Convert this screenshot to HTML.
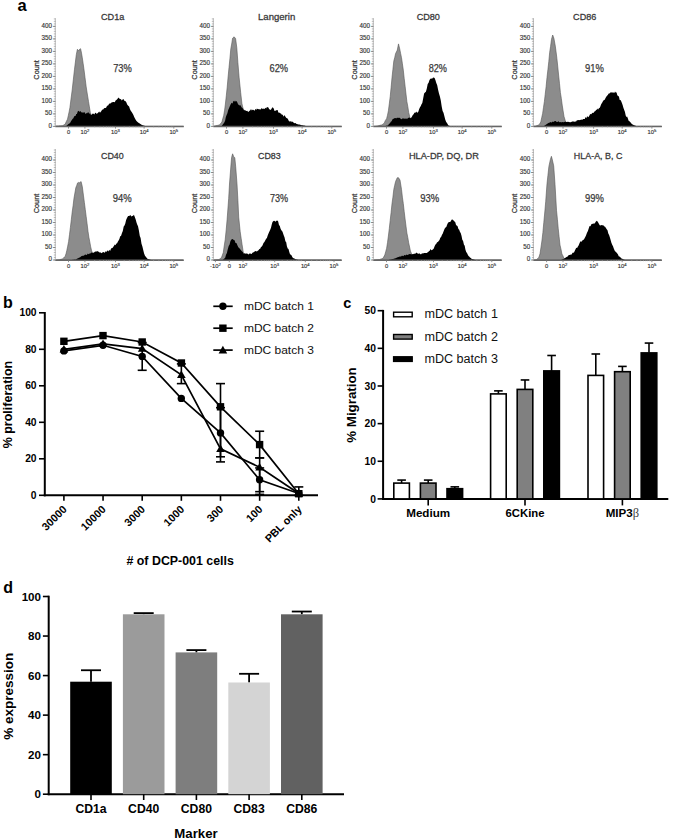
<!DOCTYPE html>
<html><head><meta charset="utf-8"><style>
html,body{margin:0;padding:0;background:#fff;}
svg{display:block;font-family:"Liberation Sans", sans-serif;}
</style></head><body>
<svg width="685" height="840" viewBox="0 0 685 840">
<rect width="685" height="840" fill="#fff"/>
<text x="17.50" y="10.50" font-size="16.5" text-anchor="start" font-weight="bold" fill="#000" >a</text>
<text x="3.00" y="307.80" font-size="16" text-anchor="start" font-weight="bold" fill="#000" >b</text>
<text x="343.20" y="307.60" font-size="14.5" text-anchor="start" font-weight="bold" fill="#000" >c</text>
<text x="3.20" y="592.60" font-size="16" text-anchor="start" font-weight="bold" fill="#000" >d</text>
<polygon points="55.3,126.4 55.3,126.1 56.1,126.0 57.0,126.0 57.8,125.9 58.6,125.9 59.5,125.8 60.3,125.8 61.1,125.7 62.0,125.7 62.8,125.6 63.6,125.1 64.4,124.6 65.2,124.1 66.3,121.6 67.5,119.2 68.3,115.6 69.1,111.9 69.9,107.7 71.0,99.1 72.2,89.9 73.3,79.9 74.5,69.2 75.4,62.1 76.3,54.7 77.4,49.3 78.6,50.8 79.6,49.3 80.6,48.7 81.5,53.1 82.3,57.8 83.1,63.2 83.9,68.8 85.0,77.5 86.2,86.9 87.3,94.0 88.5,101.4 89.4,106.9 90.3,112.4 91.8,116.9 93.3,121.4 94.3,122.9 95.3,124.4 96.3,125.2 97.3,125.9 98.3,126.1 99.3,126.2 100.3,126.4 183.3,126.4" fill="#8c8c8c" stroke="#555" stroke-width="0.6"/>
<polygon points="55.3,126.4 64.0,126.4 64.8,126.2 65.5,126.1 66.3,125.9 67.0,125.3 67.7,124.7 68.5,124.1 69.2,123.5 69.9,123.2 70.6,122.0 71.3,120.7 72.0,119.8 72.7,118.8 73.4,118.3 74.1,116.6 74.8,116.0 75.5,116.0 76.2,114.1 76.9,114.0 77.7,111.4 78.4,110.8 79.2,111.6 79.9,111.7 80.6,110.9 81.3,112.2 82.0,112.4 82.7,112.5 83.4,112.6 84.1,112.4 84.8,112.2 85.5,114.3 86.2,113.1 87.0,113.6 87.7,112.5 88.5,112.3 89.2,114.0 89.9,113.1 90.6,114.5 91.3,115.0 92.0,114.3 92.8,113.4 93.6,113.8 94.3,114.5 95.1,112.9 95.9,112.7 96.7,114.1 97.5,113.2 98.3,112.4 99.2,111.4 100.0,112.7 101.4,111.1 102.2,109.5 103.0,109.7 103.7,108.8 104.5,108.0 105.3,108.0 106.1,107.7 106.8,106.3 107.6,105.6 108.4,105.3 109.1,103.4 109.9,103.7 110.7,103.3 111.5,102.5 112.3,102.3 113.1,101.9 113.9,102.0 114.8,102.3 115.6,100.5 116.4,99.9 117.4,99.0 118.4,97.5 119.3,98.5 120.1,99.0 121.0,99.2 121.8,100.4 122.6,99.4 123.5,99.1 124.3,100.8 125.3,100.9 126.3,102.3 127.2,104.6 128.2,105.7 129.1,106.5 130.0,109.3 130.9,111.0 131.7,112.0 132.6,113.6 133.4,115.0 134.2,117.1 135.0,118.6 135.8,120.1 136.5,120.9 137.3,121.8 138.1,122.5 138.9,122.9 139.7,123.5 140.4,124.1 141.2,124.6 142.0,125.1 142.8,125.3 143.6,125.5 144.4,125.7 145.2,125.9 146.0,126.1 146.7,126.2 147.4,126.2 148.1,126.2 148.9,126.3 149.6,126.4 150.3,126.4 183.3,126.4" fill="#000"/>
<line x1="55.30" y1="126.60" x2="183.80" y2="126.60" stroke="#666" stroke-width="1.5" />
<line x1="55.30" y1="126.40" x2="55.30" y2="18.20" stroke="#aaa" stroke-width="0.8" />
<line x1="53.80" y1="126.40" x2="55.70" y2="126.40" stroke="#999" stroke-width="0.6" />
<line x1="53.80" y1="123.90" x2="55.70" y2="123.90" stroke="#999" stroke-width="0.6" />
<line x1="53.80" y1="121.40" x2="55.70" y2="121.40" stroke="#999" stroke-width="0.6" />
<line x1="53.80" y1="118.90" x2="55.70" y2="118.90" stroke="#999" stroke-width="0.6" />
<line x1="53.80" y1="116.40" x2="55.70" y2="116.40" stroke="#999" stroke-width="0.6" />
<line x1="53.80" y1="113.90" x2="55.70" y2="113.90" stroke="#999" stroke-width="0.6" />
<line x1="53.80" y1="111.40" x2="55.70" y2="111.40" stroke="#999" stroke-width="0.6" />
<line x1="53.80" y1="108.90" x2="55.70" y2="108.90" stroke="#999" stroke-width="0.6" />
<line x1="53.80" y1="106.40" x2="55.70" y2="106.40" stroke="#999" stroke-width="0.6" />
<line x1="53.80" y1="103.90" x2="55.70" y2="103.90" stroke="#999" stroke-width="0.6" />
<line x1="53.80" y1="101.40" x2="55.70" y2="101.40" stroke="#999" stroke-width="0.6" />
<line x1="53.80" y1="98.90" x2="55.70" y2="98.90" stroke="#999" stroke-width="0.6" />
<line x1="53.80" y1="96.40" x2="55.70" y2="96.40" stroke="#999" stroke-width="0.6" />
<line x1="53.80" y1="93.90" x2="55.70" y2="93.90" stroke="#999" stroke-width="0.6" />
<line x1="53.80" y1="91.40" x2="55.70" y2="91.40" stroke="#999" stroke-width="0.6" />
<line x1="53.80" y1="88.90" x2="55.70" y2="88.90" stroke="#999" stroke-width="0.6" />
<line x1="53.80" y1="86.40" x2="55.70" y2="86.40" stroke="#999" stroke-width="0.6" />
<line x1="53.80" y1="83.90" x2="55.70" y2="83.90" stroke="#999" stroke-width="0.6" />
<line x1="53.80" y1="81.40" x2="55.70" y2="81.40" stroke="#999" stroke-width="0.6" />
<line x1="53.80" y1="78.90" x2="55.70" y2="78.90" stroke="#999" stroke-width="0.6" />
<line x1="53.80" y1="76.40" x2="55.70" y2="76.40" stroke="#999" stroke-width="0.6" />
<line x1="53.80" y1="73.90" x2="55.70" y2="73.90" stroke="#999" stroke-width="0.6" />
<line x1="53.80" y1="71.40" x2="55.70" y2="71.40" stroke="#999" stroke-width="0.6" />
<line x1="53.80" y1="68.90" x2="55.70" y2="68.90" stroke="#999" stroke-width="0.6" />
<line x1="53.80" y1="66.40" x2="55.70" y2="66.40" stroke="#999" stroke-width="0.6" />
<line x1="53.80" y1="63.90" x2="55.70" y2="63.90" stroke="#999" stroke-width="0.6" />
<line x1="53.80" y1="61.40" x2="55.70" y2="61.40" stroke="#999" stroke-width="0.6" />
<line x1="53.80" y1="58.90" x2="55.70" y2="58.90" stroke="#999" stroke-width="0.6" />
<line x1="53.80" y1="56.40" x2="55.70" y2="56.40" stroke="#999" stroke-width="0.6" />
<line x1="53.80" y1="53.90" x2="55.70" y2="53.90" stroke="#999" stroke-width="0.6" />
<line x1="53.80" y1="51.40" x2="55.70" y2="51.40" stroke="#999" stroke-width="0.6" />
<line x1="53.80" y1="48.90" x2="55.70" y2="48.90" stroke="#999" stroke-width="0.6" />
<line x1="53.80" y1="46.40" x2="55.70" y2="46.40" stroke="#999" stroke-width="0.6" />
<line x1="53.80" y1="43.90" x2="55.70" y2="43.90" stroke="#999" stroke-width="0.6" />
<line x1="53.80" y1="41.40" x2="55.70" y2="41.40" stroke="#999" stroke-width="0.6" />
<line x1="53.80" y1="38.90" x2="55.70" y2="38.90" stroke="#999" stroke-width="0.6" />
<line x1="53.80" y1="36.40" x2="55.70" y2="36.40" stroke="#999" stroke-width="0.6" />
<line x1="53.80" y1="33.90" x2="55.70" y2="33.90" stroke="#999" stroke-width="0.6" />
<line x1="53.80" y1="31.40" x2="55.70" y2="31.40" stroke="#999" stroke-width="0.6" />
<line x1="53.80" y1="28.90" x2="55.70" y2="28.90" stroke="#999" stroke-width="0.6" />
<line x1="53.80" y1="26.40" x2="55.70" y2="26.40" stroke="#999" stroke-width="0.6" />
<line x1="53.80" y1="23.90" x2="55.70" y2="23.90" stroke="#999" stroke-width="0.6" />
<line x1="53.80" y1="21.40" x2="55.70" y2="21.40" stroke="#999" stroke-width="0.6" />
<line x1="53.80" y1="18.90" x2="55.70" y2="18.90" stroke="#999" stroke-width="0.6" />
<line x1="52.80" y1="126.40" x2="55.30" y2="126.40" stroke="#777" stroke-width="0.8" />
<text x="52.10" y="127.50" font-size="6.3" text-anchor="end" font-weight="normal" fill="#333" stroke="#333" stroke-width="0.15">0</text>
<line x1="52.80" y1="113.90" x2="55.30" y2="113.90" stroke="#777" stroke-width="0.8" />
<text x="52.10" y="115.00" font-size="6.3" text-anchor="end" font-weight="normal" fill="#333" stroke="#333" stroke-width="0.15">50</text>
<line x1="52.80" y1="101.40" x2="55.30" y2="101.40" stroke="#777" stroke-width="0.8" />
<text x="52.10" y="102.50" font-size="6.3" text-anchor="end" font-weight="normal" fill="#333" stroke="#333" stroke-width="0.15">100</text>
<line x1="52.80" y1="88.90" x2="55.30" y2="88.90" stroke="#777" stroke-width="0.8" />
<text x="52.10" y="90.00" font-size="6.3" text-anchor="end" font-weight="normal" fill="#333" stroke="#333" stroke-width="0.15">150</text>
<line x1="52.80" y1="76.40" x2="55.30" y2="76.40" stroke="#777" stroke-width="0.8" />
<text x="52.10" y="77.50" font-size="6.3" text-anchor="end" font-weight="normal" fill="#333" stroke="#333" stroke-width="0.15">200</text>
<line x1="52.80" y1="63.90" x2="55.30" y2="63.90" stroke="#777" stroke-width="0.8" />
<text x="52.10" y="65.00" font-size="6.3" text-anchor="end" font-weight="normal" fill="#333" stroke="#333" stroke-width="0.15">250</text>
<line x1="52.80" y1="51.40" x2="55.30" y2="51.40" stroke="#777" stroke-width="0.8" />
<text x="52.10" y="52.50" font-size="6.3" text-anchor="end" font-weight="normal" fill="#333" stroke="#333" stroke-width="0.15">300</text>
<line x1="52.80" y1="38.90" x2="55.30" y2="38.90" stroke="#777" stroke-width="0.8" />
<text x="52.10" y="40.00" font-size="6.3" text-anchor="end" font-weight="normal" fill="#333" stroke="#333" stroke-width="0.15">350</text>
<line x1="52.80" y1="26.40" x2="55.30" y2="26.40" stroke="#777" stroke-width="0.8" />
<text x="52.10" y="27.50" font-size="6.3" text-anchor="end" font-weight="normal" fill="#333" stroke="#333" stroke-width="0.15">400</text>
<line x1="68.50" y1="126.40" x2="68.50" y2="128.60" stroke="#777" stroke-width="0.8" />
<text x="68.50" y="134.20" font-size="5.8" text-anchor="middle" font-weight="normal" fill="#333" stroke="#333" stroke-width="0.15">0</text>
<line x1="84.90" y1="126.40" x2="84.90" y2="128.60" stroke="#777" stroke-width="0.8" />
<text x="84.90" y="134.20" font-size="5.8" text-anchor="middle" font-weight="normal" fill="#333" stroke="#333" stroke-width="0.15">10<tspan font-size="4.2" dy="-2.2">2</tspan></text>
<line x1="115.50" y1="126.40" x2="115.50" y2="128.60" stroke="#777" stroke-width="0.8" />
<text x="115.50" y="134.20" font-size="5.8" text-anchor="middle" font-weight="normal" fill="#333" stroke="#333" stroke-width="0.15">10<tspan font-size="4.2" dy="-2.2">3</tspan></text>
<line x1="144.10" y1="126.40" x2="144.10" y2="128.60" stroke="#777" stroke-width="0.8" />
<text x="144.10" y="134.20" font-size="5.8" text-anchor="middle" font-weight="normal" fill="#333" stroke="#333" stroke-width="0.15">10<tspan font-size="4.2" dy="-2.2">4</tspan></text>
<line x1="173.80" y1="126.40" x2="173.80" y2="128.60" stroke="#777" stroke-width="0.8" />
<text x="173.80" y="134.20" font-size="5.8" text-anchor="middle" font-weight="normal" fill="#333" stroke="#333" stroke-width="0.15">10<tspan font-size="4.2" dy="-2.2">5</tspan></text>
<line x1="94.68" y1="126.40" x2="94.68" y2="127.70" stroke="#aaa" stroke-width="0.5" />
<line x1="99.88" y1="126.40" x2="99.88" y2="127.70" stroke="#aaa" stroke-width="0.5" />
<line x1="103.56" y1="126.40" x2="103.56" y2="127.70" stroke="#aaa" stroke-width="0.5" />
<line x1="106.42" y1="126.40" x2="106.42" y2="127.70" stroke="#aaa" stroke-width="0.5" />
<line x1="108.76" y1="126.40" x2="108.76" y2="127.70" stroke="#aaa" stroke-width="0.5" />
<line x1="110.73" y1="126.40" x2="110.73" y2="127.70" stroke="#aaa" stroke-width="0.5" />
<line x1="112.44" y1="126.40" x2="112.44" y2="127.70" stroke="#aaa" stroke-width="0.5" />
<line x1="113.95" y1="126.40" x2="113.95" y2="127.70" stroke="#aaa" stroke-width="0.5" />
<line x1="124.18" y1="126.40" x2="124.18" y2="127.70" stroke="#aaa" stroke-width="0.5" />
<line x1="129.38" y1="126.40" x2="129.38" y2="127.70" stroke="#aaa" stroke-width="0.5" />
<line x1="133.06" y1="126.40" x2="133.06" y2="127.70" stroke="#aaa" stroke-width="0.5" />
<line x1="135.92" y1="126.40" x2="135.92" y2="127.70" stroke="#aaa" stroke-width="0.5" />
<line x1="138.26" y1="126.40" x2="138.26" y2="127.70" stroke="#aaa" stroke-width="0.5" />
<line x1="140.23" y1="126.40" x2="140.23" y2="127.70" stroke="#aaa" stroke-width="0.5" />
<line x1="141.94" y1="126.40" x2="141.94" y2="127.70" stroke="#aaa" stroke-width="0.5" />
<line x1="143.45" y1="126.40" x2="143.45" y2="127.70" stroke="#aaa" stroke-width="0.5" />
<line x1="153.68" y1="126.40" x2="153.68" y2="127.70" stroke="#aaa" stroke-width="0.5" />
<line x1="158.88" y1="126.40" x2="158.88" y2="127.70" stroke="#aaa" stroke-width="0.5" />
<line x1="162.56" y1="126.40" x2="162.56" y2="127.70" stroke="#aaa" stroke-width="0.5" />
<line x1="165.42" y1="126.40" x2="165.42" y2="127.70" stroke="#aaa" stroke-width="0.5" />
<line x1="167.76" y1="126.40" x2="167.76" y2="127.70" stroke="#aaa" stroke-width="0.5" />
<line x1="169.73" y1="126.40" x2="169.73" y2="127.70" stroke="#aaa" stroke-width="0.5" />
<line x1="171.44" y1="126.40" x2="171.44" y2="127.70" stroke="#aaa" stroke-width="0.5" />
<line x1="172.95" y1="126.40" x2="172.95" y2="127.70" stroke="#aaa" stroke-width="0.5" />
<text transform="translate(38.9,69.9) rotate(-90)" font-size="7.6" text-anchor="middle" fill="#333" textLength="19.5" lengthAdjust="spacingAndGlyphs" stroke="#333" stroke-width="0.25">Count</text>
<text x="112.70" y="19.60" font-size="9.8" text-anchor="middle" font-weight="normal" fill="#3a3a3a" textLength="23.3" lengthAdjust="spacingAndGlyphs" stroke="#3a3a3a" stroke-width="0.3">CD1a</text>
<text x="122.50" y="71.60" font-size="10.3" text-anchor="middle" font-weight="normal" fill="#3a3a3a" textLength="18.7" lengthAdjust="spacingAndGlyphs" stroke="#3a3a3a" stroke-width="0.25">73%</text>
<polygon points="213.3,126.4 214.7,126.0 215.5,125.8 216.3,125.6 217.1,125.5 217.9,125.3 218.7,125.1 219.5,124.9 220.7,123.4 221.9,122.1 222.8,118.6 223.7,115.6 224.6,110.2 225.4,104.0 226.3,95.8 227.2,87.2 228.1,76.9 229.0,67.6 229.9,58.8 230.8,48.9 231.7,44.0 232.6,38.2 234.1,36.8 235.6,38.6 236.8,47.8 237.9,62.7 239.1,77.3 240.7,92.8 241.9,103.4 242.7,107.0 243.6,109.9 244.5,113.0 245.4,116.6 246.3,119.6 247.3,121.4 248.3,123.4 249.3,124.4 250.3,125.4 251.3,126.4 341.3,126.4" fill="#8c8c8c" stroke="#555" stroke-width="0.6"/>
<polygon points="213.3,126.4 221.3,126.4 222.1,125.4 222.8,124.5 223.6,123.5 224.3,122.4 225.1,120.7 225.8,117.3 226.6,115.0 227.4,113.2 228.2,110.0 229.0,108.2 229.9,106.1 230.8,103.9 231.7,102.7 232.6,103.4 233.4,100.8 234.2,101.8 235.0,100.6 235.9,101.7 236.8,101.0 237.7,103.4 238.5,104.7 239.3,105.4 240.1,105.1 240.9,106.0 241.7,107.4 242.5,108.0 243.3,109.2 244.1,110.5 244.9,109.7 245.7,110.8 246.5,111.0 247.3,110.8 248.1,112.0 248.8,111.5 249.6,110.8 250.3,110.2 251.0,109.0 251.8,110.6 252.5,109.8 253.2,109.8 254.0,110.3 254.7,110.7 255.4,108.8 256.2,110.0 256.9,108.4 257.6,109.0 258.3,109.3 259.0,109.1 259.8,109.5 260.5,109.4 261.2,108.4 261.9,108.3 262.6,109.1 263.3,108.5 264.0,108.9 264.7,108.8 265.4,107.7 266.2,108.6 266.9,107.1 267.7,107.2 268.4,107.5 269.2,109.3 269.9,109.5 270.7,109.9 271.4,109.1 272.2,107.6 272.9,107.6 273.7,108.6 274.5,111.1 275.3,110.7 276.1,110.4 276.8,110.1 277.6,110.0 278.3,112.3 279.1,113.1 279.8,112.6 280.5,113.6 281.2,113.7 282.0,115.1 282.7,114.6 283.4,116.7 284.1,115.2 284.9,115.7 285.6,117.1 286.4,118.0 287.2,118.2 287.9,119.1 288.7,120.8 289.5,121.4 290.3,121.4 291.1,121.1 291.8,122.2 292.6,121.6 293.4,122.5 294.1,122.9 294.8,123.3 295.5,123.1 296.2,123.7 296.9,124.1 297.7,124.3 298.5,124.5 299.4,124.6 300.2,124.8 301.0,125.0 301.8,125.2 302.6,125.3 303.4,125.5 304.2,125.6 305.0,125.8 305.8,126.0 306.6,126.1 307.5,126.2 308.3,126.4 341.3,126.4" fill="#000"/>
<line x1="213.30" y1="126.60" x2="341.80" y2="126.60" stroke="#666" stroke-width="1.5" />
<line x1="213.30" y1="126.40" x2="213.30" y2="18.20" stroke="#aaa" stroke-width="0.8" />
<line x1="211.80" y1="126.40" x2="213.70" y2="126.40" stroke="#999" stroke-width="0.6" />
<line x1="211.80" y1="123.90" x2="213.70" y2="123.90" stroke="#999" stroke-width="0.6" />
<line x1="211.80" y1="121.40" x2="213.70" y2="121.40" stroke="#999" stroke-width="0.6" />
<line x1="211.80" y1="118.90" x2="213.70" y2="118.90" stroke="#999" stroke-width="0.6" />
<line x1="211.80" y1="116.40" x2="213.70" y2="116.40" stroke="#999" stroke-width="0.6" />
<line x1="211.80" y1="113.90" x2="213.70" y2="113.90" stroke="#999" stroke-width="0.6" />
<line x1="211.80" y1="111.40" x2="213.70" y2="111.40" stroke="#999" stroke-width="0.6" />
<line x1="211.80" y1="108.90" x2="213.70" y2="108.90" stroke="#999" stroke-width="0.6" />
<line x1="211.80" y1="106.40" x2="213.70" y2="106.40" stroke="#999" stroke-width="0.6" />
<line x1="211.80" y1="103.90" x2="213.70" y2="103.90" stroke="#999" stroke-width="0.6" />
<line x1="211.80" y1="101.40" x2="213.70" y2="101.40" stroke="#999" stroke-width="0.6" />
<line x1="211.80" y1="98.90" x2="213.70" y2="98.90" stroke="#999" stroke-width="0.6" />
<line x1="211.80" y1="96.40" x2="213.70" y2="96.40" stroke="#999" stroke-width="0.6" />
<line x1="211.80" y1="93.90" x2="213.70" y2="93.90" stroke="#999" stroke-width="0.6" />
<line x1="211.80" y1="91.40" x2="213.70" y2="91.40" stroke="#999" stroke-width="0.6" />
<line x1="211.80" y1="88.90" x2="213.70" y2="88.90" stroke="#999" stroke-width="0.6" />
<line x1="211.80" y1="86.40" x2="213.70" y2="86.40" stroke="#999" stroke-width="0.6" />
<line x1="211.80" y1="83.90" x2="213.70" y2="83.90" stroke="#999" stroke-width="0.6" />
<line x1="211.80" y1="81.40" x2="213.70" y2="81.40" stroke="#999" stroke-width="0.6" />
<line x1="211.80" y1="78.90" x2="213.70" y2="78.90" stroke="#999" stroke-width="0.6" />
<line x1="211.80" y1="76.40" x2="213.70" y2="76.40" stroke="#999" stroke-width="0.6" />
<line x1="211.80" y1="73.90" x2="213.70" y2="73.90" stroke="#999" stroke-width="0.6" />
<line x1="211.80" y1="71.40" x2="213.70" y2="71.40" stroke="#999" stroke-width="0.6" />
<line x1="211.80" y1="68.90" x2="213.70" y2="68.90" stroke="#999" stroke-width="0.6" />
<line x1="211.80" y1="66.40" x2="213.70" y2="66.40" stroke="#999" stroke-width="0.6" />
<line x1="211.80" y1="63.90" x2="213.70" y2="63.90" stroke="#999" stroke-width="0.6" />
<line x1="211.80" y1="61.40" x2="213.70" y2="61.40" stroke="#999" stroke-width="0.6" />
<line x1="211.80" y1="58.90" x2="213.70" y2="58.90" stroke="#999" stroke-width="0.6" />
<line x1="211.80" y1="56.40" x2="213.70" y2="56.40" stroke="#999" stroke-width="0.6" />
<line x1="211.80" y1="53.90" x2="213.70" y2="53.90" stroke="#999" stroke-width="0.6" />
<line x1="211.80" y1="51.40" x2="213.70" y2="51.40" stroke="#999" stroke-width="0.6" />
<line x1="211.80" y1="48.90" x2="213.70" y2="48.90" stroke="#999" stroke-width="0.6" />
<line x1="211.80" y1="46.40" x2="213.70" y2="46.40" stroke="#999" stroke-width="0.6" />
<line x1="211.80" y1="43.90" x2="213.70" y2="43.90" stroke="#999" stroke-width="0.6" />
<line x1="211.80" y1="41.40" x2="213.70" y2="41.40" stroke="#999" stroke-width="0.6" />
<line x1="211.80" y1="38.90" x2="213.70" y2="38.90" stroke="#999" stroke-width="0.6" />
<line x1="211.80" y1="36.40" x2="213.70" y2="36.40" stroke="#999" stroke-width="0.6" />
<line x1="211.80" y1="33.90" x2="213.70" y2="33.90" stroke="#999" stroke-width="0.6" />
<line x1="211.80" y1="31.40" x2="213.70" y2="31.40" stroke="#999" stroke-width="0.6" />
<line x1="211.80" y1="28.90" x2="213.70" y2="28.90" stroke="#999" stroke-width="0.6" />
<line x1="211.80" y1="26.40" x2="213.70" y2="26.40" stroke="#999" stroke-width="0.6" />
<line x1="211.80" y1="23.90" x2="213.70" y2="23.90" stroke="#999" stroke-width="0.6" />
<line x1="211.80" y1="21.40" x2="213.70" y2="21.40" stroke="#999" stroke-width="0.6" />
<line x1="211.80" y1="18.90" x2="213.70" y2="18.90" stroke="#999" stroke-width="0.6" />
<line x1="210.80" y1="126.40" x2="213.30" y2="126.40" stroke="#777" stroke-width="0.8" />
<text x="210.10" y="127.50" font-size="6.3" text-anchor="end" font-weight="normal" fill="#333" stroke="#333" stroke-width="0.15">0</text>
<line x1="210.80" y1="113.90" x2="213.30" y2="113.90" stroke="#777" stroke-width="0.8" />
<text x="210.10" y="115.00" font-size="6.3" text-anchor="end" font-weight="normal" fill="#333" stroke="#333" stroke-width="0.15">50</text>
<line x1="210.80" y1="101.40" x2="213.30" y2="101.40" stroke="#777" stroke-width="0.8" />
<text x="210.10" y="102.50" font-size="6.3" text-anchor="end" font-weight="normal" fill="#333" stroke="#333" stroke-width="0.15">100</text>
<line x1="210.80" y1="88.90" x2="213.30" y2="88.90" stroke="#777" stroke-width="0.8" />
<text x="210.10" y="90.00" font-size="6.3" text-anchor="end" font-weight="normal" fill="#333" stroke="#333" stroke-width="0.15">150</text>
<line x1="210.80" y1="76.40" x2="213.30" y2="76.40" stroke="#777" stroke-width="0.8" />
<text x="210.10" y="77.50" font-size="6.3" text-anchor="end" font-weight="normal" fill="#333" stroke="#333" stroke-width="0.15">200</text>
<line x1="210.80" y1="63.90" x2="213.30" y2="63.90" stroke="#777" stroke-width="0.8" />
<text x="210.10" y="65.00" font-size="6.3" text-anchor="end" font-weight="normal" fill="#333" stroke="#333" stroke-width="0.15">250</text>
<line x1="210.80" y1="51.40" x2="213.30" y2="51.40" stroke="#777" stroke-width="0.8" />
<text x="210.10" y="52.50" font-size="6.3" text-anchor="end" font-weight="normal" fill="#333" stroke="#333" stroke-width="0.15">300</text>
<line x1="210.80" y1="38.90" x2="213.30" y2="38.90" stroke="#777" stroke-width="0.8" />
<text x="210.10" y="40.00" font-size="6.3" text-anchor="end" font-weight="normal" fill="#333" stroke="#333" stroke-width="0.15">350</text>
<line x1="210.80" y1="26.40" x2="213.30" y2="26.40" stroke="#777" stroke-width="0.8" />
<text x="210.10" y="27.50" font-size="6.3" text-anchor="end" font-weight="normal" fill="#333" stroke="#333" stroke-width="0.15">400</text>
<line x1="226.50" y1="126.40" x2="226.50" y2="128.60" stroke="#777" stroke-width="0.8" />
<text x="226.50" y="134.20" font-size="5.8" text-anchor="middle" font-weight="normal" fill="#333" stroke="#333" stroke-width="0.15">0</text>
<line x1="242.90" y1="126.40" x2="242.90" y2="128.60" stroke="#777" stroke-width="0.8" />
<text x="242.90" y="134.20" font-size="5.8" text-anchor="middle" font-weight="normal" fill="#333" stroke="#333" stroke-width="0.15">10<tspan font-size="4.2" dy="-2.2">2</tspan></text>
<line x1="273.50" y1="126.40" x2="273.50" y2="128.60" stroke="#777" stroke-width="0.8" />
<text x="273.50" y="134.20" font-size="5.8" text-anchor="middle" font-weight="normal" fill="#333" stroke="#333" stroke-width="0.15">10<tspan font-size="4.2" dy="-2.2">3</tspan></text>
<line x1="302.10" y1="126.40" x2="302.10" y2="128.60" stroke="#777" stroke-width="0.8" />
<text x="302.10" y="134.20" font-size="5.8" text-anchor="middle" font-weight="normal" fill="#333" stroke="#333" stroke-width="0.15">10<tspan font-size="4.2" dy="-2.2">4</tspan></text>
<line x1="331.80" y1="126.40" x2="331.80" y2="128.60" stroke="#777" stroke-width="0.8" />
<text x="331.80" y="134.20" font-size="5.8" text-anchor="middle" font-weight="normal" fill="#333" stroke="#333" stroke-width="0.15">10<tspan font-size="4.2" dy="-2.2">5</tspan></text>
<line x1="252.68" y1="126.40" x2="252.68" y2="127.70" stroke="#aaa" stroke-width="0.5" />
<line x1="257.88" y1="126.40" x2="257.88" y2="127.70" stroke="#aaa" stroke-width="0.5" />
<line x1="261.56" y1="126.40" x2="261.56" y2="127.70" stroke="#aaa" stroke-width="0.5" />
<line x1="264.42" y1="126.40" x2="264.42" y2="127.70" stroke="#aaa" stroke-width="0.5" />
<line x1="266.76" y1="126.40" x2="266.76" y2="127.70" stroke="#aaa" stroke-width="0.5" />
<line x1="268.73" y1="126.40" x2="268.73" y2="127.70" stroke="#aaa" stroke-width="0.5" />
<line x1="270.44" y1="126.40" x2="270.44" y2="127.70" stroke="#aaa" stroke-width="0.5" />
<line x1="271.95" y1="126.40" x2="271.95" y2="127.70" stroke="#aaa" stroke-width="0.5" />
<line x1="282.18" y1="126.40" x2="282.18" y2="127.70" stroke="#aaa" stroke-width="0.5" />
<line x1="287.38" y1="126.40" x2="287.38" y2="127.70" stroke="#aaa" stroke-width="0.5" />
<line x1="291.06" y1="126.40" x2="291.06" y2="127.70" stroke="#aaa" stroke-width="0.5" />
<line x1="293.92" y1="126.40" x2="293.92" y2="127.70" stroke="#aaa" stroke-width="0.5" />
<line x1="296.26" y1="126.40" x2="296.26" y2="127.70" stroke="#aaa" stroke-width="0.5" />
<line x1="298.23" y1="126.40" x2="298.23" y2="127.70" stroke="#aaa" stroke-width="0.5" />
<line x1="299.94" y1="126.40" x2="299.94" y2="127.70" stroke="#aaa" stroke-width="0.5" />
<line x1="301.45" y1="126.40" x2="301.45" y2="127.70" stroke="#aaa" stroke-width="0.5" />
<line x1="311.68" y1="126.40" x2="311.68" y2="127.70" stroke="#aaa" stroke-width="0.5" />
<line x1="316.88" y1="126.40" x2="316.88" y2="127.70" stroke="#aaa" stroke-width="0.5" />
<line x1="320.56" y1="126.40" x2="320.56" y2="127.70" stroke="#aaa" stroke-width="0.5" />
<line x1="323.42" y1="126.40" x2="323.42" y2="127.70" stroke="#aaa" stroke-width="0.5" />
<line x1="325.76" y1="126.40" x2="325.76" y2="127.70" stroke="#aaa" stroke-width="0.5" />
<line x1="327.73" y1="126.40" x2="327.73" y2="127.70" stroke="#aaa" stroke-width="0.5" />
<line x1="329.44" y1="126.40" x2="329.44" y2="127.70" stroke="#aaa" stroke-width="0.5" />
<line x1="330.95" y1="126.40" x2="330.95" y2="127.70" stroke="#aaa" stroke-width="0.5" />
<text transform="translate(196.9,69.9) rotate(-90)" font-size="7.6" text-anchor="middle" fill="#333" textLength="19.5" lengthAdjust="spacingAndGlyphs" stroke="#333" stroke-width="0.25">Count</text>
<text x="276.60" y="19.60" font-size="9.8" text-anchor="middle" font-weight="normal" fill="#3a3a3a" textLength="37.2" lengthAdjust="spacingAndGlyphs" stroke="#3a3a3a" stroke-width="0.3">Langerin</text>
<text x="278.80" y="71.60" font-size="10.3" text-anchor="middle" font-weight="normal" fill="#3a3a3a" textLength="18.6" lengthAdjust="spacingAndGlyphs" stroke="#3a3a3a" stroke-width="0.25">62%</text>
<polygon points="373.3,126.4 377.1,126.0 378.1,125.8 379.0,125.6 380.0,125.3 380.9,125.1 381.9,124.9 382.7,124.3 383.5,123.7 384.3,122.9 385.4,120.4 386.6,118.7 387.5,115.2 388.4,110.8 389.3,103.8 390.2,96.7 391.1,87.6 392.0,77.7 392.9,69.4 393.8,61.1 394.7,57.7 395.6,53.5 396.4,52.0 397.3,50.1 398.5,43.9 399.7,48.8 400.6,53.4 401.5,57.7 402.4,63.8 403.3,70.1 404.2,78.4 405.1,86.2 406.0,94.1 406.9,101.7 407.8,106.5 408.7,112.4 409.8,117.0 411.3,121.6 412.3,123.1 413.3,124.4 414.3,125.1 415.3,125.7 416.3,126.4 501.3,126.4" fill="#8c8c8c" stroke="#555" stroke-width="0.6"/>
<polygon points="373.3,126.4 383.1,126.4 383.9,126.2 384.7,126.1 385.4,125.9 386.2,125.7 387.0,125.6 387.8,125.4 388.6,124.5 389.3,123.7 390.1,123.1 390.8,121.8 391.6,121.3 392.4,119.6 393.2,118.7 393.9,118.8 394.7,118.1 395.4,117.9 396.2,118.6 396.9,117.8 397.6,117.7 398.3,118.0 399.0,117.5 399.7,117.9 400.4,118.6 401.1,119.0 401.9,119.3 402.6,118.3 403.3,118.6 404.0,118.6 404.7,118.8 405.5,118.5 406.2,118.9 406.9,118.2 407.6,118.8 408.3,117.8 409.0,117.7 409.7,117.5 410.4,118.2 411.2,117.8 412.0,116.5 412.8,114.9 413.6,114.3 414.4,112.8 415.2,112.6 416.0,112.6 416.8,111.5 417.6,113.1 418.4,111.4 419.2,109.0 420.0,107.3 420.8,106.1 421.5,104.3 422.3,102.9 423.2,98.3 424.1,93.6 425.0,92.6 425.9,91.8 426.8,88.6 427.7,84.0 428.6,82.7 429.5,79.9 430.4,78.8 431.3,78.6 432.1,78.8 432.9,77.7 433.7,77.6 434.6,78.1 435.4,79.9 436.3,83.1 437.2,85.2 438.1,89.7 439.0,93.5 439.9,96.5 440.8,100.6 441.7,106.5 442.6,110.9 443.5,112.8 444.4,116.3 445.3,119.7 446.2,122.1 447.0,122.9 447.7,124.2 448.5,125.4 449.2,125.7 450.0,126.0 450.8,126.1 451.5,126.3 452.3,126.4 501.3,126.4" fill="#000"/>
<line x1="373.30" y1="126.60" x2="501.80" y2="126.60" stroke="#666" stroke-width="1.5" />
<line x1="373.30" y1="126.40" x2="373.30" y2="18.20" stroke="#aaa" stroke-width="0.8" />
<line x1="371.80" y1="126.40" x2="373.70" y2="126.40" stroke="#999" stroke-width="0.6" />
<line x1="371.80" y1="123.90" x2="373.70" y2="123.90" stroke="#999" stroke-width="0.6" />
<line x1="371.80" y1="121.40" x2="373.70" y2="121.40" stroke="#999" stroke-width="0.6" />
<line x1="371.80" y1="118.90" x2="373.70" y2="118.90" stroke="#999" stroke-width="0.6" />
<line x1="371.80" y1="116.40" x2="373.70" y2="116.40" stroke="#999" stroke-width="0.6" />
<line x1="371.80" y1="113.90" x2="373.70" y2="113.90" stroke="#999" stroke-width="0.6" />
<line x1="371.80" y1="111.40" x2="373.70" y2="111.40" stroke="#999" stroke-width="0.6" />
<line x1="371.80" y1="108.90" x2="373.70" y2="108.90" stroke="#999" stroke-width="0.6" />
<line x1="371.80" y1="106.40" x2="373.70" y2="106.40" stroke="#999" stroke-width="0.6" />
<line x1="371.80" y1="103.90" x2="373.70" y2="103.90" stroke="#999" stroke-width="0.6" />
<line x1="371.80" y1="101.40" x2="373.70" y2="101.40" stroke="#999" stroke-width="0.6" />
<line x1="371.80" y1="98.90" x2="373.70" y2="98.90" stroke="#999" stroke-width="0.6" />
<line x1="371.80" y1="96.40" x2="373.70" y2="96.40" stroke="#999" stroke-width="0.6" />
<line x1="371.80" y1="93.90" x2="373.70" y2="93.90" stroke="#999" stroke-width="0.6" />
<line x1="371.80" y1="91.40" x2="373.70" y2="91.40" stroke="#999" stroke-width="0.6" />
<line x1="371.80" y1="88.90" x2="373.70" y2="88.90" stroke="#999" stroke-width="0.6" />
<line x1="371.80" y1="86.40" x2="373.70" y2="86.40" stroke="#999" stroke-width="0.6" />
<line x1="371.80" y1="83.90" x2="373.70" y2="83.90" stroke="#999" stroke-width="0.6" />
<line x1="371.80" y1="81.40" x2="373.70" y2="81.40" stroke="#999" stroke-width="0.6" />
<line x1="371.80" y1="78.90" x2="373.70" y2="78.90" stroke="#999" stroke-width="0.6" />
<line x1="371.80" y1="76.40" x2="373.70" y2="76.40" stroke="#999" stroke-width="0.6" />
<line x1="371.80" y1="73.90" x2="373.70" y2="73.90" stroke="#999" stroke-width="0.6" />
<line x1="371.80" y1="71.40" x2="373.70" y2="71.40" stroke="#999" stroke-width="0.6" />
<line x1="371.80" y1="68.90" x2="373.70" y2="68.90" stroke="#999" stroke-width="0.6" />
<line x1="371.80" y1="66.40" x2="373.70" y2="66.40" stroke="#999" stroke-width="0.6" />
<line x1="371.80" y1="63.90" x2="373.70" y2="63.90" stroke="#999" stroke-width="0.6" />
<line x1="371.80" y1="61.40" x2="373.70" y2="61.40" stroke="#999" stroke-width="0.6" />
<line x1="371.80" y1="58.90" x2="373.70" y2="58.90" stroke="#999" stroke-width="0.6" />
<line x1="371.80" y1="56.40" x2="373.70" y2="56.40" stroke="#999" stroke-width="0.6" />
<line x1="371.80" y1="53.90" x2="373.70" y2="53.90" stroke="#999" stroke-width="0.6" />
<line x1="371.80" y1="51.40" x2="373.70" y2="51.40" stroke="#999" stroke-width="0.6" />
<line x1="371.80" y1="48.90" x2="373.70" y2="48.90" stroke="#999" stroke-width="0.6" />
<line x1="371.80" y1="46.40" x2="373.70" y2="46.40" stroke="#999" stroke-width="0.6" />
<line x1="371.80" y1="43.90" x2="373.70" y2="43.90" stroke="#999" stroke-width="0.6" />
<line x1="371.80" y1="41.40" x2="373.70" y2="41.40" stroke="#999" stroke-width="0.6" />
<line x1="371.80" y1="38.90" x2="373.70" y2="38.90" stroke="#999" stroke-width="0.6" />
<line x1="371.80" y1="36.40" x2="373.70" y2="36.40" stroke="#999" stroke-width="0.6" />
<line x1="371.80" y1="33.90" x2="373.70" y2="33.90" stroke="#999" stroke-width="0.6" />
<line x1="371.80" y1="31.40" x2="373.70" y2="31.40" stroke="#999" stroke-width="0.6" />
<line x1="371.80" y1="28.90" x2="373.70" y2="28.90" stroke="#999" stroke-width="0.6" />
<line x1="371.80" y1="26.40" x2="373.70" y2="26.40" stroke="#999" stroke-width="0.6" />
<line x1="371.80" y1="23.90" x2="373.70" y2="23.90" stroke="#999" stroke-width="0.6" />
<line x1="371.80" y1="21.40" x2="373.70" y2="21.40" stroke="#999" stroke-width="0.6" />
<line x1="371.80" y1="18.90" x2="373.70" y2="18.90" stroke="#999" stroke-width="0.6" />
<line x1="370.80" y1="126.40" x2="373.30" y2="126.40" stroke="#777" stroke-width="0.8" />
<text x="370.10" y="127.50" font-size="6.3" text-anchor="end" font-weight="normal" fill="#333" stroke="#333" stroke-width="0.15">0</text>
<line x1="370.80" y1="113.90" x2="373.30" y2="113.90" stroke="#777" stroke-width="0.8" />
<text x="370.10" y="115.00" font-size="6.3" text-anchor="end" font-weight="normal" fill="#333" stroke="#333" stroke-width="0.15">50</text>
<line x1="370.80" y1="101.40" x2="373.30" y2="101.40" stroke="#777" stroke-width="0.8" />
<text x="370.10" y="102.50" font-size="6.3" text-anchor="end" font-weight="normal" fill="#333" stroke="#333" stroke-width="0.15">100</text>
<line x1="370.80" y1="88.90" x2="373.30" y2="88.90" stroke="#777" stroke-width="0.8" />
<text x="370.10" y="90.00" font-size="6.3" text-anchor="end" font-weight="normal" fill="#333" stroke="#333" stroke-width="0.15">150</text>
<line x1="370.80" y1="76.40" x2="373.30" y2="76.40" stroke="#777" stroke-width="0.8" />
<text x="370.10" y="77.50" font-size="6.3" text-anchor="end" font-weight="normal" fill="#333" stroke="#333" stroke-width="0.15">200</text>
<line x1="370.80" y1="63.90" x2="373.30" y2="63.90" stroke="#777" stroke-width="0.8" />
<text x="370.10" y="65.00" font-size="6.3" text-anchor="end" font-weight="normal" fill="#333" stroke="#333" stroke-width="0.15">250</text>
<line x1="370.80" y1="51.40" x2="373.30" y2="51.40" stroke="#777" stroke-width="0.8" />
<text x="370.10" y="52.50" font-size="6.3" text-anchor="end" font-weight="normal" fill="#333" stroke="#333" stroke-width="0.15">300</text>
<line x1="370.80" y1="38.90" x2="373.30" y2="38.90" stroke="#777" stroke-width="0.8" />
<text x="370.10" y="40.00" font-size="6.3" text-anchor="end" font-weight="normal" fill="#333" stroke="#333" stroke-width="0.15">350</text>
<line x1="370.80" y1="26.40" x2="373.30" y2="26.40" stroke="#777" stroke-width="0.8" />
<text x="370.10" y="27.50" font-size="6.3" text-anchor="end" font-weight="normal" fill="#333" stroke="#333" stroke-width="0.15">400</text>
<line x1="386.50" y1="126.40" x2="386.50" y2="128.60" stroke="#777" stroke-width="0.8" />
<text x="386.50" y="134.20" font-size="5.8" text-anchor="middle" font-weight="normal" fill="#333" stroke="#333" stroke-width="0.15">0</text>
<line x1="402.90" y1="126.40" x2="402.90" y2="128.60" stroke="#777" stroke-width="0.8" />
<text x="402.90" y="134.20" font-size="5.8" text-anchor="middle" font-weight="normal" fill="#333" stroke="#333" stroke-width="0.15">10<tspan font-size="4.2" dy="-2.2">2</tspan></text>
<line x1="433.50" y1="126.40" x2="433.50" y2="128.60" stroke="#777" stroke-width="0.8" />
<text x="433.50" y="134.20" font-size="5.8" text-anchor="middle" font-weight="normal" fill="#333" stroke="#333" stroke-width="0.15">10<tspan font-size="4.2" dy="-2.2">3</tspan></text>
<line x1="462.10" y1="126.40" x2="462.10" y2="128.60" stroke="#777" stroke-width="0.8" />
<text x="462.10" y="134.20" font-size="5.8" text-anchor="middle" font-weight="normal" fill="#333" stroke="#333" stroke-width="0.15">10<tspan font-size="4.2" dy="-2.2">4</tspan></text>
<line x1="491.80" y1="126.40" x2="491.80" y2="128.60" stroke="#777" stroke-width="0.8" />
<text x="491.80" y="134.20" font-size="5.8" text-anchor="middle" font-weight="normal" fill="#333" stroke="#333" stroke-width="0.15">10<tspan font-size="4.2" dy="-2.2">5</tspan></text>
<line x1="412.68" y1="126.40" x2="412.68" y2="127.70" stroke="#aaa" stroke-width="0.5" />
<line x1="417.88" y1="126.40" x2="417.88" y2="127.70" stroke="#aaa" stroke-width="0.5" />
<line x1="421.56" y1="126.40" x2="421.56" y2="127.70" stroke="#aaa" stroke-width="0.5" />
<line x1="424.42" y1="126.40" x2="424.42" y2="127.70" stroke="#aaa" stroke-width="0.5" />
<line x1="426.76" y1="126.40" x2="426.76" y2="127.70" stroke="#aaa" stroke-width="0.5" />
<line x1="428.73" y1="126.40" x2="428.73" y2="127.70" stroke="#aaa" stroke-width="0.5" />
<line x1="430.44" y1="126.40" x2="430.44" y2="127.70" stroke="#aaa" stroke-width="0.5" />
<line x1="431.95" y1="126.40" x2="431.95" y2="127.70" stroke="#aaa" stroke-width="0.5" />
<line x1="442.18" y1="126.40" x2="442.18" y2="127.70" stroke="#aaa" stroke-width="0.5" />
<line x1="447.38" y1="126.40" x2="447.38" y2="127.70" stroke="#aaa" stroke-width="0.5" />
<line x1="451.06" y1="126.40" x2="451.06" y2="127.70" stroke="#aaa" stroke-width="0.5" />
<line x1="453.92" y1="126.40" x2="453.92" y2="127.70" stroke="#aaa" stroke-width="0.5" />
<line x1="456.26" y1="126.40" x2="456.26" y2="127.70" stroke="#aaa" stroke-width="0.5" />
<line x1="458.23" y1="126.40" x2="458.23" y2="127.70" stroke="#aaa" stroke-width="0.5" />
<line x1="459.94" y1="126.40" x2="459.94" y2="127.70" stroke="#aaa" stroke-width="0.5" />
<line x1="461.45" y1="126.40" x2="461.45" y2="127.70" stroke="#aaa" stroke-width="0.5" />
<line x1="471.68" y1="126.40" x2="471.68" y2="127.70" stroke="#aaa" stroke-width="0.5" />
<line x1="476.88" y1="126.40" x2="476.88" y2="127.70" stroke="#aaa" stroke-width="0.5" />
<line x1="480.56" y1="126.40" x2="480.56" y2="127.70" stroke="#aaa" stroke-width="0.5" />
<line x1="483.42" y1="126.40" x2="483.42" y2="127.70" stroke="#aaa" stroke-width="0.5" />
<line x1="485.76" y1="126.40" x2="485.76" y2="127.70" stroke="#aaa" stroke-width="0.5" />
<line x1="487.73" y1="126.40" x2="487.73" y2="127.70" stroke="#aaa" stroke-width="0.5" />
<line x1="489.44" y1="126.40" x2="489.44" y2="127.70" stroke="#aaa" stroke-width="0.5" />
<line x1="490.95" y1="126.40" x2="490.95" y2="127.70" stroke="#aaa" stroke-width="0.5" />
<text transform="translate(356.9,69.9) rotate(-90)" font-size="7.6" text-anchor="middle" fill="#333" textLength="19.5" lengthAdjust="spacingAndGlyphs" stroke="#333" stroke-width="0.25">Count</text>
<text x="428.30" y="19.80" font-size="9.8" text-anchor="middle" font-weight="normal" fill="#3a3a3a" textLength="23.3" lengthAdjust="spacingAndGlyphs" stroke="#3a3a3a" stroke-width="0.3">CD80</text>
<text x="437.80" y="71.60" font-size="10.3" text-anchor="middle" font-weight="normal" fill="#3a3a3a" textLength="18.3" lengthAdjust="spacingAndGlyphs" stroke="#3a3a3a" stroke-width="0.25">82%</text>
<polygon points="533.4,126.4 536.0,126.0 537.0,125.6 538.0,125.3 539.0,124.9 539.9,123.4 540.8,122.0 541.7,117.7 542.6,113.7 543.5,107.4 544.4,101.4 545.2,94.4 546.1,86.8 547.0,77.4 547.9,69.8 548.8,61.5 549.7,52.2 550.6,46.3 551.5,39.3 552.7,35.0 553.9,38.3 555.3,46.1 556.1,52.1 556.9,58.4 557.8,67.1 558.6,75.1 559.5,83.5 560.4,92.6 561.3,98.3 562.2,105.1 563.1,110.8 564.0,116.5 565.2,120.4 566.4,124.3 567.4,125.1 568.4,125.9 569.4,126.2 570.4,126.4 661.4,126.4" fill="#8c8c8c" stroke="#555" stroke-width="0.6"/>
<polygon points="533.4,126.4 543.2,126.4 544.0,125.9 544.7,125.4 545.5,124.9 546.2,124.5 546.9,124.1 547.7,123.6 548.4,122.9 549.1,122.8 549.8,122.4 550.5,122.1 551.3,122.4 552.0,122.3 552.7,121.5 553.4,121.9 554.1,121.6 554.9,121.0 555.6,120.9 556.3,121.7 557.1,121.9 557.9,121.8 558.6,121.3 559.4,122.2 560.2,122.1 561.0,122.3 561.8,122.3 562.6,121.9 563.4,122.2 564.2,122.0 565.0,121.7 565.8,121.7 566.6,122.0 567.4,121.7 568.1,121.9 568.9,121.7 569.7,122.3 570.5,122.2 571.3,121.9 572.1,121.4 572.9,121.6 573.7,121.6 574.5,121.7 575.3,121.5 576.1,121.4 576.9,120.3 577.7,120.2 578.5,120.0 579.3,120.3 580.1,119.8 580.9,120.1 581.7,119.5 582.4,119.8 583.2,119.0 584.0,119.0 584.8,119.0 585.5,117.1 586.3,118.3 587.0,116.6 587.7,116.4 588.4,117.3 589.2,116.1 589.9,114.6 590.6,114.0 591.3,114.3 592.0,113.2 592.7,112.7 593.4,113.0 594.1,111.9 594.8,111.2 595.5,111.1 596.2,109.6 596.9,109.9 597.6,108.6 598.3,109.4 599.1,107.8 599.8,108.0 600.5,106.0 601.3,103.9 602.0,103.0 602.8,101.4 603.6,100.2 604.5,99.9 605.3,98.5 606.1,97.0 607.0,95.7 607.8,95.1 608.7,93.6 609.4,93.6 610.2,92.8 610.9,92.2 611.7,92.6 612.6,92.4 613.5,92.6 614.3,92.9 615.0,91.5 615.8,92.6 616.6,92.4 617.3,95.2 618.1,96.0 618.9,96.6 619.7,99.9 620.5,100.1 621.2,101.3 621.9,102.9 622.7,105.2 623.4,107.7 624.2,110.1 624.9,111.8 625.7,115.4 626.4,116.9 627.1,116.5 627.9,118.5 628.6,120.7 629.3,121.1 630.0,122.1 630.7,122.4 631.4,123.5 632.1,124.3 632.8,124.6 633.5,124.9 634.2,125.2 634.9,125.5 635.6,125.8 636.3,125.9 637.0,126.0 637.7,126.2 638.4,126.3 639.1,126.4 661.4,126.4" fill="#000"/>
<line x1="533.40" y1="126.60" x2="661.90" y2="126.60" stroke="#666" stroke-width="1.5" />
<line x1="533.40" y1="126.40" x2="533.40" y2="18.20" stroke="#aaa" stroke-width="0.8" />
<line x1="531.90" y1="126.40" x2="533.80" y2="126.40" stroke="#999" stroke-width="0.6" />
<line x1="531.90" y1="123.90" x2="533.80" y2="123.90" stroke="#999" stroke-width="0.6" />
<line x1="531.90" y1="121.40" x2="533.80" y2="121.40" stroke="#999" stroke-width="0.6" />
<line x1="531.90" y1="118.90" x2="533.80" y2="118.90" stroke="#999" stroke-width="0.6" />
<line x1="531.90" y1="116.40" x2="533.80" y2="116.40" stroke="#999" stroke-width="0.6" />
<line x1="531.90" y1="113.90" x2="533.80" y2="113.90" stroke="#999" stroke-width="0.6" />
<line x1="531.90" y1="111.40" x2="533.80" y2="111.40" stroke="#999" stroke-width="0.6" />
<line x1="531.90" y1="108.90" x2="533.80" y2="108.90" stroke="#999" stroke-width="0.6" />
<line x1="531.90" y1="106.40" x2="533.80" y2="106.40" stroke="#999" stroke-width="0.6" />
<line x1="531.90" y1="103.90" x2="533.80" y2="103.90" stroke="#999" stroke-width="0.6" />
<line x1="531.90" y1="101.40" x2="533.80" y2="101.40" stroke="#999" stroke-width="0.6" />
<line x1="531.90" y1="98.90" x2="533.80" y2="98.90" stroke="#999" stroke-width="0.6" />
<line x1="531.90" y1="96.40" x2="533.80" y2="96.40" stroke="#999" stroke-width="0.6" />
<line x1="531.90" y1="93.90" x2="533.80" y2="93.90" stroke="#999" stroke-width="0.6" />
<line x1="531.90" y1="91.40" x2="533.80" y2="91.40" stroke="#999" stroke-width="0.6" />
<line x1="531.90" y1="88.90" x2="533.80" y2="88.90" stroke="#999" stroke-width="0.6" />
<line x1="531.90" y1="86.40" x2="533.80" y2="86.40" stroke="#999" stroke-width="0.6" />
<line x1="531.90" y1="83.90" x2="533.80" y2="83.90" stroke="#999" stroke-width="0.6" />
<line x1="531.90" y1="81.40" x2="533.80" y2="81.40" stroke="#999" stroke-width="0.6" />
<line x1="531.90" y1="78.90" x2="533.80" y2="78.90" stroke="#999" stroke-width="0.6" />
<line x1="531.90" y1="76.40" x2="533.80" y2="76.40" stroke="#999" stroke-width="0.6" />
<line x1="531.90" y1="73.90" x2="533.80" y2="73.90" stroke="#999" stroke-width="0.6" />
<line x1="531.90" y1="71.40" x2="533.80" y2="71.40" stroke="#999" stroke-width="0.6" />
<line x1="531.90" y1="68.90" x2="533.80" y2="68.90" stroke="#999" stroke-width="0.6" />
<line x1="531.90" y1="66.40" x2="533.80" y2="66.40" stroke="#999" stroke-width="0.6" />
<line x1="531.90" y1="63.90" x2="533.80" y2="63.90" stroke="#999" stroke-width="0.6" />
<line x1="531.90" y1="61.40" x2="533.80" y2="61.40" stroke="#999" stroke-width="0.6" />
<line x1="531.90" y1="58.90" x2="533.80" y2="58.90" stroke="#999" stroke-width="0.6" />
<line x1="531.90" y1="56.40" x2="533.80" y2="56.40" stroke="#999" stroke-width="0.6" />
<line x1="531.90" y1="53.90" x2="533.80" y2="53.90" stroke="#999" stroke-width="0.6" />
<line x1="531.90" y1="51.40" x2="533.80" y2="51.40" stroke="#999" stroke-width="0.6" />
<line x1="531.90" y1="48.90" x2="533.80" y2="48.90" stroke="#999" stroke-width="0.6" />
<line x1="531.90" y1="46.40" x2="533.80" y2="46.40" stroke="#999" stroke-width="0.6" />
<line x1="531.90" y1="43.90" x2="533.80" y2="43.90" stroke="#999" stroke-width="0.6" />
<line x1="531.90" y1="41.40" x2="533.80" y2="41.40" stroke="#999" stroke-width="0.6" />
<line x1="531.90" y1="38.90" x2="533.80" y2="38.90" stroke="#999" stroke-width="0.6" />
<line x1="531.90" y1="36.40" x2="533.80" y2="36.40" stroke="#999" stroke-width="0.6" />
<line x1="531.90" y1="33.90" x2="533.80" y2="33.90" stroke="#999" stroke-width="0.6" />
<line x1="531.90" y1="31.40" x2="533.80" y2="31.40" stroke="#999" stroke-width="0.6" />
<line x1="531.90" y1="28.90" x2="533.80" y2="28.90" stroke="#999" stroke-width="0.6" />
<line x1="531.90" y1="26.40" x2="533.80" y2="26.40" stroke="#999" stroke-width="0.6" />
<line x1="531.90" y1="23.90" x2="533.80" y2="23.90" stroke="#999" stroke-width="0.6" />
<line x1="531.90" y1="21.40" x2="533.80" y2="21.40" stroke="#999" stroke-width="0.6" />
<line x1="531.90" y1="18.90" x2="533.80" y2="18.90" stroke="#999" stroke-width="0.6" />
<line x1="530.90" y1="126.40" x2="533.40" y2="126.40" stroke="#777" stroke-width="0.8" />
<text x="530.20" y="127.50" font-size="6.3" text-anchor="end" font-weight="normal" fill="#333" stroke="#333" stroke-width="0.15">0</text>
<line x1="530.90" y1="113.90" x2="533.40" y2="113.90" stroke="#777" stroke-width="0.8" />
<text x="530.20" y="115.00" font-size="6.3" text-anchor="end" font-weight="normal" fill="#333" stroke="#333" stroke-width="0.15">50</text>
<line x1="530.90" y1="101.40" x2="533.40" y2="101.40" stroke="#777" stroke-width="0.8" />
<text x="530.20" y="102.50" font-size="6.3" text-anchor="end" font-weight="normal" fill="#333" stroke="#333" stroke-width="0.15">100</text>
<line x1="530.90" y1="88.90" x2="533.40" y2="88.90" stroke="#777" stroke-width="0.8" />
<text x="530.20" y="90.00" font-size="6.3" text-anchor="end" font-weight="normal" fill="#333" stroke="#333" stroke-width="0.15">150</text>
<line x1="530.90" y1="76.40" x2="533.40" y2="76.40" stroke="#777" stroke-width="0.8" />
<text x="530.20" y="77.50" font-size="6.3" text-anchor="end" font-weight="normal" fill="#333" stroke="#333" stroke-width="0.15">200</text>
<line x1="530.90" y1="63.90" x2="533.40" y2="63.90" stroke="#777" stroke-width="0.8" />
<text x="530.20" y="65.00" font-size="6.3" text-anchor="end" font-weight="normal" fill="#333" stroke="#333" stroke-width="0.15">250</text>
<line x1="530.90" y1="51.40" x2="533.40" y2="51.40" stroke="#777" stroke-width="0.8" />
<text x="530.20" y="52.50" font-size="6.3" text-anchor="end" font-weight="normal" fill="#333" stroke="#333" stroke-width="0.15">300</text>
<line x1="530.90" y1="38.90" x2="533.40" y2="38.90" stroke="#777" stroke-width="0.8" />
<text x="530.20" y="40.00" font-size="6.3" text-anchor="end" font-weight="normal" fill="#333" stroke="#333" stroke-width="0.15">350</text>
<line x1="530.90" y1="26.40" x2="533.40" y2="26.40" stroke="#777" stroke-width="0.8" />
<text x="530.20" y="27.50" font-size="6.3" text-anchor="end" font-weight="normal" fill="#333" stroke="#333" stroke-width="0.15">400</text>
<line x1="546.60" y1="126.40" x2="546.60" y2="128.60" stroke="#777" stroke-width="0.8" />
<text x="546.60" y="134.20" font-size="5.8" text-anchor="middle" font-weight="normal" fill="#333" stroke="#333" stroke-width="0.15">0</text>
<line x1="563.00" y1="126.40" x2="563.00" y2="128.60" stroke="#777" stroke-width="0.8" />
<text x="563.00" y="134.20" font-size="5.8" text-anchor="middle" font-weight="normal" fill="#333" stroke="#333" stroke-width="0.15">10<tspan font-size="4.2" dy="-2.2">2</tspan></text>
<line x1="593.60" y1="126.40" x2="593.60" y2="128.60" stroke="#777" stroke-width="0.8" />
<text x="593.60" y="134.20" font-size="5.8" text-anchor="middle" font-weight="normal" fill="#333" stroke="#333" stroke-width="0.15">10<tspan font-size="4.2" dy="-2.2">3</tspan></text>
<line x1="622.20" y1="126.40" x2="622.20" y2="128.60" stroke="#777" stroke-width="0.8" />
<text x="622.20" y="134.20" font-size="5.8" text-anchor="middle" font-weight="normal" fill="#333" stroke="#333" stroke-width="0.15">10<tspan font-size="4.2" dy="-2.2">4</tspan></text>
<line x1="651.90" y1="126.40" x2="651.90" y2="128.60" stroke="#777" stroke-width="0.8" />
<text x="651.90" y="134.20" font-size="5.8" text-anchor="middle" font-weight="normal" fill="#333" stroke="#333" stroke-width="0.15">10<tspan font-size="4.2" dy="-2.2">5</tspan></text>
<line x1="572.78" y1="126.40" x2="572.78" y2="127.70" stroke="#aaa" stroke-width="0.5" />
<line x1="577.98" y1="126.40" x2="577.98" y2="127.70" stroke="#aaa" stroke-width="0.5" />
<line x1="581.66" y1="126.40" x2="581.66" y2="127.70" stroke="#aaa" stroke-width="0.5" />
<line x1="584.52" y1="126.40" x2="584.52" y2="127.70" stroke="#aaa" stroke-width="0.5" />
<line x1="586.86" y1="126.40" x2="586.86" y2="127.70" stroke="#aaa" stroke-width="0.5" />
<line x1="588.83" y1="126.40" x2="588.83" y2="127.70" stroke="#aaa" stroke-width="0.5" />
<line x1="590.54" y1="126.40" x2="590.54" y2="127.70" stroke="#aaa" stroke-width="0.5" />
<line x1="592.05" y1="126.40" x2="592.05" y2="127.70" stroke="#aaa" stroke-width="0.5" />
<line x1="602.28" y1="126.40" x2="602.28" y2="127.70" stroke="#aaa" stroke-width="0.5" />
<line x1="607.48" y1="126.40" x2="607.48" y2="127.70" stroke="#aaa" stroke-width="0.5" />
<line x1="611.16" y1="126.40" x2="611.16" y2="127.70" stroke="#aaa" stroke-width="0.5" />
<line x1="614.02" y1="126.40" x2="614.02" y2="127.70" stroke="#aaa" stroke-width="0.5" />
<line x1="616.36" y1="126.40" x2="616.36" y2="127.70" stroke="#aaa" stroke-width="0.5" />
<line x1="618.33" y1="126.40" x2="618.33" y2="127.70" stroke="#aaa" stroke-width="0.5" />
<line x1="620.04" y1="126.40" x2="620.04" y2="127.70" stroke="#aaa" stroke-width="0.5" />
<line x1="621.55" y1="126.40" x2="621.55" y2="127.70" stroke="#aaa" stroke-width="0.5" />
<line x1="631.78" y1="126.40" x2="631.78" y2="127.70" stroke="#aaa" stroke-width="0.5" />
<line x1="636.98" y1="126.40" x2="636.98" y2="127.70" stroke="#aaa" stroke-width="0.5" />
<line x1="640.66" y1="126.40" x2="640.66" y2="127.70" stroke="#aaa" stroke-width="0.5" />
<line x1="643.52" y1="126.40" x2="643.52" y2="127.70" stroke="#aaa" stroke-width="0.5" />
<line x1="645.86" y1="126.40" x2="645.86" y2="127.70" stroke="#aaa" stroke-width="0.5" />
<line x1="647.83" y1="126.40" x2="647.83" y2="127.70" stroke="#aaa" stroke-width="0.5" />
<line x1="649.54" y1="126.40" x2="649.54" y2="127.70" stroke="#aaa" stroke-width="0.5" />
<line x1="651.05" y1="126.40" x2="651.05" y2="127.70" stroke="#aaa" stroke-width="0.5" />
<text transform="translate(517.0,69.9) rotate(-90)" font-size="7.6" text-anchor="middle" fill="#333" textLength="19.5" lengthAdjust="spacingAndGlyphs" stroke="#333" stroke-width="0.25">Count</text>
<text x="584.70" y="19.80" font-size="9.8" text-anchor="middle" font-weight="normal" fill="#3a3a3a" textLength="23.2" lengthAdjust="spacingAndGlyphs" stroke="#3a3a3a" stroke-width="0.3">CD86</text>
<text x="594.40" y="71.60" font-size="10.3" text-anchor="middle" font-weight="normal" fill="#3a3a3a" textLength="18.9" lengthAdjust="spacingAndGlyphs" stroke="#3a3a3a" stroke-width="0.25">91%</text>
<polygon points="55.3,260.0 59.1,259.8 60.0,259.6 60.9,259.3 61.8,259.1 62.7,258.8 63.5,258.0 64.3,257.2 65.1,256.5 66.0,253.8 66.8,250.6 67.7,246.2 68.6,241.5 69.5,234.6 70.4,227.4 71.3,219.8 72.2,212.1 73.1,205.6 74.0,198.1 74.9,193.0 75.8,187.8 76.7,185.5 77.6,182.9 78.4,182.4 79.3,182.8 80.2,182.2 81.1,181.6 82.3,186.6 83.5,195.9 84.4,202.7 85.3,209.7 86.2,216.7 87.1,223.8 88.0,231.3 88.9,237.3 89.8,241.9 90.7,246.9 91.5,250.3 92.4,252.9 93.3,255.2 94.3,257.0 95.3,258.0 96.3,259.0 97.3,260.0 183.3,260.0" fill="#8c8c8c" stroke="#555" stroke-width="0.6"/>
<polygon points="55.3,260.0 71.0,260.0 71.8,259.9 72.6,259.8 73.4,259.7 74.2,259.6 75.0,259.5 75.8,259.4 76.6,259.0 77.4,258.6 78.2,258.2 78.9,257.8 79.7,257.4 80.5,257.0 81.2,256.3 81.9,256.0 82.7,255.7 83.4,255.8 84.1,255.4 84.8,254.7 85.5,254.4 86.3,255.1 87.0,254.7 87.7,253.5 88.5,254.3 89.3,253.4 90.0,253.7 90.8,253.1 91.6,252.5 92.4,252.8 93.2,252.8 94.0,252.6 94.8,251.8 95.6,251.5 96.4,251.6 97.2,251.2 98.0,251.3 98.8,252.1 99.6,252.6 100.4,252.2 101.2,253.3 102.0,252.7 102.8,252.2 103.6,252.0 104.3,252.7 105.1,252.2 105.9,251.1 106.7,252.0 107.5,250.3 108.4,251.5 109.2,249.7 110.1,251.0 110.9,249.0 111.7,248.0 112.4,247.9 113.2,247.1 114.0,245.8 114.8,244.5 115.5,245.3 116.3,243.5 117.0,243.5 117.8,241.7 118.6,240.6 119.4,238.9 120.2,236.3 121.0,235.9 121.9,233.2 122.8,230.9 123.7,226.6 124.5,225.5 125.3,223.5 126.1,219.9 127.1,217.7 128.1,215.9 128.9,215.9 129.6,215.7 130.4,215.1 131.3,216.6 132.2,216.0 133.1,215.8 133.9,214.8 134.8,217.1 135.7,219.6 136.5,222.4 137.2,224.5 138.0,226.2 138.9,230.6 139.8,235.9 140.6,238.1 141.5,243.8 142.4,246.6 143.3,250.2 144.1,253.6 145.0,255.8 145.8,256.8 146.6,257.8 147.4,258.8 148.1,259.1 148.8,259.3 149.6,259.6 150.3,259.8 151.3,259.9 152.3,260.0 183.3,260.0" fill="#000"/>
<line x1="55.30" y1="260.20" x2="183.80" y2="260.20" stroke="#666" stroke-width="1.5" />
<line x1="55.30" y1="260.00" x2="55.30" y2="149.00" stroke="#aaa" stroke-width="0.8" />
<line x1="53.80" y1="260.00" x2="55.70" y2="260.00" stroke="#999" stroke-width="0.6" />
<line x1="53.80" y1="257.50" x2="55.70" y2="257.50" stroke="#999" stroke-width="0.6" />
<line x1="53.80" y1="255.00" x2="55.70" y2="255.00" stroke="#999" stroke-width="0.6" />
<line x1="53.80" y1="252.50" x2="55.70" y2="252.50" stroke="#999" stroke-width="0.6" />
<line x1="53.80" y1="250.00" x2="55.70" y2="250.00" stroke="#999" stroke-width="0.6" />
<line x1="53.80" y1="247.50" x2="55.70" y2="247.50" stroke="#999" stroke-width="0.6" />
<line x1="53.80" y1="245.00" x2="55.70" y2="245.00" stroke="#999" stroke-width="0.6" />
<line x1="53.80" y1="242.50" x2="55.70" y2="242.50" stroke="#999" stroke-width="0.6" />
<line x1="53.80" y1="240.00" x2="55.70" y2="240.00" stroke="#999" stroke-width="0.6" />
<line x1="53.80" y1="237.50" x2="55.70" y2="237.50" stroke="#999" stroke-width="0.6" />
<line x1="53.80" y1="235.00" x2="55.70" y2="235.00" stroke="#999" stroke-width="0.6" />
<line x1="53.80" y1="232.50" x2="55.70" y2="232.50" stroke="#999" stroke-width="0.6" />
<line x1="53.80" y1="230.00" x2="55.70" y2="230.00" stroke="#999" stroke-width="0.6" />
<line x1="53.80" y1="227.50" x2="55.70" y2="227.50" stroke="#999" stroke-width="0.6" />
<line x1="53.80" y1="225.00" x2="55.70" y2="225.00" stroke="#999" stroke-width="0.6" />
<line x1="53.80" y1="222.50" x2="55.70" y2="222.50" stroke="#999" stroke-width="0.6" />
<line x1="53.80" y1="220.00" x2="55.70" y2="220.00" stroke="#999" stroke-width="0.6" />
<line x1="53.80" y1="217.50" x2="55.70" y2="217.50" stroke="#999" stroke-width="0.6" />
<line x1="53.80" y1="215.00" x2="55.70" y2="215.00" stroke="#999" stroke-width="0.6" />
<line x1="53.80" y1="212.50" x2="55.70" y2="212.50" stroke="#999" stroke-width="0.6" />
<line x1="53.80" y1="210.00" x2="55.70" y2="210.00" stroke="#999" stroke-width="0.6" />
<line x1="53.80" y1="207.50" x2="55.70" y2="207.50" stroke="#999" stroke-width="0.6" />
<line x1="53.80" y1="205.00" x2="55.70" y2="205.00" stroke="#999" stroke-width="0.6" />
<line x1="53.80" y1="202.50" x2="55.70" y2="202.50" stroke="#999" stroke-width="0.6" />
<line x1="53.80" y1="200.00" x2="55.70" y2="200.00" stroke="#999" stroke-width="0.6" />
<line x1="53.80" y1="197.50" x2="55.70" y2="197.50" stroke="#999" stroke-width="0.6" />
<line x1="53.80" y1="195.00" x2="55.70" y2="195.00" stroke="#999" stroke-width="0.6" />
<line x1="53.80" y1="192.50" x2="55.70" y2="192.50" stroke="#999" stroke-width="0.6" />
<line x1="53.80" y1="190.00" x2="55.70" y2="190.00" stroke="#999" stroke-width="0.6" />
<line x1="53.80" y1="187.50" x2="55.70" y2="187.50" stroke="#999" stroke-width="0.6" />
<line x1="53.80" y1="185.00" x2="55.70" y2="185.00" stroke="#999" stroke-width="0.6" />
<line x1="53.80" y1="182.50" x2="55.70" y2="182.50" stroke="#999" stroke-width="0.6" />
<line x1="53.80" y1="180.00" x2="55.70" y2="180.00" stroke="#999" stroke-width="0.6" />
<line x1="53.80" y1="177.50" x2="55.70" y2="177.50" stroke="#999" stroke-width="0.6" />
<line x1="53.80" y1="175.00" x2="55.70" y2="175.00" stroke="#999" stroke-width="0.6" />
<line x1="53.80" y1="172.50" x2="55.70" y2="172.50" stroke="#999" stroke-width="0.6" />
<line x1="53.80" y1="170.00" x2="55.70" y2="170.00" stroke="#999" stroke-width="0.6" />
<line x1="53.80" y1="167.50" x2="55.70" y2="167.50" stroke="#999" stroke-width="0.6" />
<line x1="53.80" y1="165.00" x2="55.70" y2="165.00" stroke="#999" stroke-width="0.6" />
<line x1="53.80" y1="162.50" x2="55.70" y2="162.50" stroke="#999" stroke-width="0.6" />
<line x1="53.80" y1="160.00" x2="55.70" y2="160.00" stroke="#999" stroke-width="0.6" />
<line x1="53.80" y1="157.50" x2="55.70" y2="157.50" stroke="#999" stroke-width="0.6" />
<line x1="53.80" y1="155.00" x2="55.70" y2="155.00" stroke="#999" stroke-width="0.6" />
<line x1="53.80" y1="152.50" x2="55.70" y2="152.50" stroke="#999" stroke-width="0.6" />
<line x1="53.80" y1="150.00" x2="55.70" y2="150.00" stroke="#999" stroke-width="0.6" />
<line x1="52.80" y1="260.00" x2="55.30" y2="260.00" stroke="#777" stroke-width="0.8" />
<text x="52.10" y="261.10" font-size="6.3" text-anchor="end" font-weight="normal" fill="#333" stroke="#333" stroke-width="0.15">0</text>
<line x1="52.80" y1="247.50" x2="55.30" y2="247.50" stroke="#777" stroke-width="0.8" />
<text x="52.10" y="248.60" font-size="6.3" text-anchor="end" font-weight="normal" fill="#333" stroke="#333" stroke-width="0.15">50</text>
<line x1="52.80" y1="235.00" x2="55.30" y2="235.00" stroke="#777" stroke-width="0.8" />
<text x="52.10" y="236.10" font-size="6.3" text-anchor="end" font-weight="normal" fill="#333" stroke="#333" stroke-width="0.15">100</text>
<line x1="52.80" y1="222.50" x2="55.30" y2="222.50" stroke="#777" stroke-width="0.8" />
<text x="52.10" y="223.60" font-size="6.3" text-anchor="end" font-weight="normal" fill="#333" stroke="#333" stroke-width="0.15">150</text>
<line x1="52.80" y1="210.00" x2="55.30" y2="210.00" stroke="#777" stroke-width="0.8" />
<text x="52.10" y="211.10" font-size="6.3" text-anchor="end" font-weight="normal" fill="#333" stroke="#333" stroke-width="0.15">200</text>
<line x1="52.80" y1="197.50" x2="55.30" y2="197.50" stroke="#777" stroke-width="0.8" />
<text x="52.10" y="198.60" font-size="6.3" text-anchor="end" font-weight="normal" fill="#333" stroke="#333" stroke-width="0.15">250</text>
<line x1="52.80" y1="185.00" x2="55.30" y2="185.00" stroke="#777" stroke-width="0.8" />
<text x="52.10" y="186.10" font-size="6.3" text-anchor="end" font-weight="normal" fill="#333" stroke="#333" stroke-width="0.15">300</text>
<line x1="52.80" y1="172.50" x2="55.30" y2="172.50" stroke="#777" stroke-width="0.8" />
<text x="52.10" y="173.60" font-size="6.3" text-anchor="end" font-weight="normal" fill="#333" stroke="#333" stroke-width="0.15">350</text>
<line x1="52.80" y1="160.00" x2="55.30" y2="160.00" stroke="#777" stroke-width="0.8" />
<text x="52.10" y="161.10" font-size="6.3" text-anchor="end" font-weight="normal" fill="#333" stroke="#333" stroke-width="0.15">400</text>
<line x1="68.50" y1="260.00" x2="68.50" y2="262.20" stroke="#777" stroke-width="0.8" />
<text x="68.50" y="267.80" font-size="5.8" text-anchor="middle" font-weight="normal" fill="#333" stroke="#333" stroke-width="0.15">0</text>
<line x1="84.90" y1="260.00" x2="84.90" y2="262.20" stroke="#777" stroke-width="0.8" />
<text x="84.90" y="267.80" font-size="5.8" text-anchor="middle" font-weight="normal" fill="#333" stroke="#333" stroke-width="0.15">10<tspan font-size="4.2" dy="-2.2">2</tspan></text>
<line x1="115.50" y1="260.00" x2="115.50" y2="262.20" stroke="#777" stroke-width="0.8" />
<text x="115.50" y="267.80" font-size="5.8" text-anchor="middle" font-weight="normal" fill="#333" stroke="#333" stroke-width="0.15">10<tspan font-size="4.2" dy="-2.2">3</tspan></text>
<line x1="144.10" y1="260.00" x2="144.10" y2="262.20" stroke="#777" stroke-width="0.8" />
<text x="144.10" y="267.80" font-size="5.8" text-anchor="middle" font-weight="normal" fill="#333" stroke="#333" stroke-width="0.15">10<tspan font-size="4.2" dy="-2.2">4</tspan></text>
<line x1="173.80" y1="260.00" x2="173.80" y2="262.20" stroke="#777" stroke-width="0.8" />
<text x="173.80" y="267.80" font-size="5.8" text-anchor="middle" font-weight="normal" fill="#333" stroke="#333" stroke-width="0.15">10<tspan font-size="4.2" dy="-2.2">5</tspan></text>
<line x1="94.68" y1="260.00" x2="94.68" y2="261.30" stroke="#aaa" stroke-width="0.5" />
<line x1="99.88" y1="260.00" x2="99.88" y2="261.30" stroke="#aaa" stroke-width="0.5" />
<line x1="103.56" y1="260.00" x2="103.56" y2="261.30" stroke="#aaa" stroke-width="0.5" />
<line x1="106.42" y1="260.00" x2="106.42" y2="261.30" stroke="#aaa" stroke-width="0.5" />
<line x1="108.76" y1="260.00" x2="108.76" y2="261.30" stroke="#aaa" stroke-width="0.5" />
<line x1="110.73" y1="260.00" x2="110.73" y2="261.30" stroke="#aaa" stroke-width="0.5" />
<line x1="112.44" y1="260.00" x2="112.44" y2="261.30" stroke="#aaa" stroke-width="0.5" />
<line x1="113.95" y1="260.00" x2="113.95" y2="261.30" stroke="#aaa" stroke-width="0.5" />
<line x1="124.18" y1="260.00" x2="124.18" y2="261.30" stroke="#aaa" stroke-width="0.5" />
<line x1="129.38" y1="260.00" x2="129.38" y2="261.30" stroke="#aaa" stroke-width="0.5" />
<line x1="133.06" y1="260.00" x2="133.06" y2="261.30" stroke="#aaa" stroke-width="0.5" />
<line x1="135.92" y1="260.00" x2="135.92" y2="261.30" stroke="#aaa" stroke-width="0.5" />
<line x1="138.26" y1="260.00" x2="138.26" y2="261.30" stroke="#aaa" stroke-width="0.5" />
<line x1="140.23" y1="260.00" x2="140.23" y2="261.30" stroke="#aaa" stroke-width="0.5" />
<line x1="141.94" y1="260.00" x2="141.94" y2="261.30" stroke="#aaa" stroke-width="0.5" />
<line x1="143.45" y1="260.00" x2="143.45" y2="261.30" stroke="#aaa" stroke-width="0.5" />
<line x1="153.68" y1="260.00" x2="153.68" y2="261.30" stroke="#aaa" stroke-width="0.5" />
<line x1="158.88" y1="260.00" x2="158.88" y2="261.30" stroke="#aaa" stroke-width="0.5" />
<line x1="162.56" y1="260.00" x2="162.56" y2="261.30" stroke="#aaa" stroke-width="0.5" />
<line x1="165.42" y1="260.00" x2="165.42" y2="261.30" stroke="#aaa" stroke-width="0.5" />
<line x1="167.76" y1="260.00" x2="167.76" y2="261.30" stroke="#aaa" stroke-width="0.5" />
<line x1="169.73" y1="260.00" x2="169.73" y2="261.30" stroke="#aaa" stroke-width="0.5" />
<line x1="171.44" y1="260.00" x2="171.44" y2="261.30" stroke="#aaa" stroke-width="0.5" />
<line x1="172.95" y1="260.00" x2="172.95" y2="261.30" stroke="#aaa" stroke-width="0.5" />
<text transform="translate(38.9,203.5) rotate(-90)" font-size="7.6" text-anchor="middle" fill="#333" textLength="19.5" lengthAdjust="spacingAndGlyphs" stroke="#333" stroke-width="0.25">Count</text>
<text x="112.40" y="158.70" font-size="9.8" text-anchor="middle" font-weight="normal" fill="#3a3a3a" textLength="22.8" lengthAdjust="spacingAndGlyphs" stroke="#3a3a3a" stroke-width="0.3">CD40</text>
<text x="122.30" y="201.70" font-size="10.3" text-anchor="middle" font-weight="normal" fill="#3a3a3a" textLength="19.0" lengthAdjust="spacingAndGlyphs" stroke="#3a3a3a" stroke-width="0.25">94%</text>
<polygon points="213.3,260.0 218.9,259.6 219.7,259.0 220.6,258.3 221.4,257.7 222.4,255.1 223.3,252.5 224.2,246.1 225.2,239.7 226.2,229.9 227.1,219.7 228.7,198.3 229.5,184.0 230.9,166.0 231.6,157.5 232.6,153.8 233.6,156.5 234.8,157.7 235.7,166.8 237.0,183.9 237.9,200.2 238.7,217.1 240.2,231.8 241.2,238.6 242.1,244.7 243.3,252.5 244.6,256.6 245.5,257.8 246.3,259.0 247.3,259.5 248.3,260.0 341.3,260.0" fill="#8c8c8c" stroke="#555" stroke-width="0.6"/>
<polygon points="213.3,260.0 222.7,260.0 223.5,259.2 224.4,258.5 225.2,257.7 226.0,254.8 226.9,252.9 227.7,249.6 228.7,246.1 229.6,244.4 230.5,240.9 231.4,239.4 232.7,239.1 233.7,240.0 234.6,240.3 235.5,242.9 236.4,243.0 237.4,245.3 238.3,247.2 239.2,247.9 240.2,249.2 241.2,250.6 242.1,251.4 243.0,252.2 243.9,254.1 244.7,253.1 245.6,253.7 246.4,253.4 247.2,253.6 247.9,254.0 248.7,254.4 249.4,253.6 250.2,253.6 250.9,253.7 251.7,254.1 252.4,252.8 253.2,252.6 253.9,252.1 254.7,251.5 255.4,251.1 256.2,251.2 256.9,251.5 257.7,250.8 258.5,250.3 259.4,249.1 260.2,248.7 261.0,247.0 261.9,246.4 262.7,245.0 263.5,242.9 264.4,242.1 265.2,240.6 266.0,239.0 266.9,238.1 267.7,235.4 268.5,233.6 269.4,231.6 270.2,229.8 271.0,227.7 271.7,224.7 272.5,221.9 273.2,221.3 274.0,220.7 274.7,221.1 275.5,221.8 276.4,220.8 277.2,220.6 278.1,221.3 279.0,225.0 279.8,226.1 280.5,228.6 281.3,230.3 282.1,230.9 282.8,232.5 283.6,234.9 284.5,237.2 285.4,241.3 286.2,242.3 286.9,246.2 287.7,248.6 288.5,249.0 289.3,252.0 290.1,254.4 290.8,254.5 291.6,255.5 292.3,256.9 293.0,257.9 293.7,258.2 294.4,258.6 295.1,258.9 295.8,259.3 296.5,259.6 297.4,259.8 298.3,260.0 341.3,260.0" fill="#000"/>
<line x1="213.30" y1="260.20" x2="341.80" y2="260.20" stroke="#666" stroke-width="1.5" />
<line x1="213.30" y1="260.00" x2="213.30" y2="149.00" stroke="#aaa" stroke-width="0.8" />
<line x1="211.80" y1="260.00" x2="213.70" y2="260.00" stroke="#999" stroke-width="0.6" />
<line x1="211.80" y1="257.50" x2="213.70" y2="257.50" stroke="#999" stroke-width="0.6" />
<line x1="211.80" y1="255.00" x2="213.70" y2="255.00" stroke="#999" stroke-width="0.6" />
<line x1="211.80" y1="252.50" x2="213.70" y2="252.50" stroke="#999" stroke-width="0.6" />
<line x1="211.80" y1="250.00" x2="213.70" y2="250.00" stroke="#999" stroke-width="0.6" />
<line x1="211.80" y1="247.50" x2="213.70" y2="247.50" stroke="#999" stroke-width="0.6" />
<line x1="211.80" y1="245.00" x2="213.70" y2="245.00" stroke="#999" stroke-width="0.6" />
<line x1="211.80" y1="242.50" x2="213.70" y2="242.50" stroke="#999" stroke-width="0.6" />
<line x1="211.80" y1="240.00" x2="213.70" y2="240.00" stroke="#999" stroke-width="0.6" />
<line x1="211.80" y1="237.50" x2="213.70" y2="237.50" stroke="#999" stroke-width="0.6" />
<line x1="211.80" y1="235.00" x2="213.70" y2="235.00" stroke="#999" stroke-width="0.6" />
<line x1="211.80" y1="232.50" x2="213.70" y2="232.50" stroke="#999" stroke-width="0.6" />
<line x1="211.80" y1="230.00" x2="213.70" y2="230.00" stroke="#999" stroke-width="0.6" />
<line x1="211.80" y1="227.50" x2="213.70" y2="227.50" stroke="#999" stroke-width="0.6" />
<line x1="211.80" y1="225.00" x2="213.70" y2="225.00" stroke="#999" stroke-width="0.6" />
<line x1="211.80" y1="222.50" x2="213.70" y2="222.50" stroke="#999" stroke-width="0.6" />
<line x1="211.80" y1="220.00" x2="213.70" y2="220.00" stroke="#999" stroke-width="0.6" />
<line x1="211.80" y1="217.50" x2="213.70" y2="217.50" stroke="#999" stroke-width="0.6" />
<line x1="211.80" y1="215.00" x2="213.70" y2="215.00" stroke="#999" stroke-width="0.6" />
<line x1="211.80" y1="212.50" x2="213.70" y2="212.50" stroke="#999" stroke-width="0.6" />
<line x1="211.80" y1="210.00" x2="213.70" y2="210.00" stroke="#999" stroke-width="0.6" />
<line x1="211.80" y1="207.50" x2="213.70" y2="207.50" stroke="#999" stroke-width="0.6" />
<line x1="211.80" y1="205.00" x2="213.70" y2="205.00" stroke="#999" stroke-width="0.6" />
<line x1="211.80" y1="202.50" x2="213.70" y2="202.50" stroke="#999" stroke-width="0.6" />
<line x1="211.80" y1="200.00" x2="213.70" y2="200.00" stroke="#999" stroke-width="0.6" />
<line x1="211.80" y1="197.50" x2="213.70" y2="197.50" stroke="#999" stroke-width="0.6" />
<line x1="211.80" y1="195.00" x2="213.70" y2="195.00" stroke="#999" stroke-width="0.6" />
<line x1="211.80" y1="192.50" x2="213.70" y2="192.50" stroke="#999" stroke-width="0.6" />
<line x1="211.80" y1="190.00" x2="213.70" y2="190.00" stroke="#999" stroke-width="0.6" />
<line x1="211.80" y1="187.50" x2="213.70" y2="187.50" stroke="#999" stroke-width="0.6" />
<line x1="211.80" y1="185.00" x2="213.70" y2="185.00" stroke="#999" stroke-width="0.6" />
<line x1="211.80" y1="182.50" x2="213.70" y2="182.50" stroke="#999" stroke-width="0.6" />
<line x1="211.80" y1="180.00" x2="213.70" y2="180.00" stroke="#999" stroke-width="0.6" />
<line x1="211.80" y1="177.50" x2="213.70" y2="177.50" stroke="#999" stroke-width="0.6" />
<line x1="211.80" y1="175.00" x2="213.70" y2="175.00" stroke="#999" stroke-width="0.6" />
<line x1="211.80" y1="172.50" x2="213.70" y2="172.50" stroke="#999" stroke-width="0.6" />
<line x1="211.80" y1="170.00" x2="213.70" y2="170.00" stroke="#999" stroke-width="0.6" />
<line x1="211.80" y1="167.50" x2="213.70" y2="167.50" stroke="#999" stroke-width="0.6" />
<line x1="211.80" y1="165.00" x2="213.70" y2="165.00" stroke="#999" stroke-width="0.6" />
<line x1="211.80" y1="162.50" x2="213.70" y2="162.50" stroke="#999" stroke-width="0.6" />
<line x1="211.80" y1="160.00" x2="213.70" y2="160.00" stroke="#999" stroke-width="0.6" />
<line x1="211.80" y1="157.50" x2="213.70" y2="157.50" stroke="#999" stroke-width="0.6" />
<line x1="211.80" y1="155.00" x2="213.70" y2="155.00" stroke="#999" stroke-width="0.6" />
<line x1="211.80" y1="152.50" x2="213.70" y2="152.50" stroke="#999" stroke-width="0.6" />
<line x1="211.80" y1="150.00" x2="213.70" y2="150.00" stroke="#999" stroke-width="0.6" />
<line x1="210.80" y1="260.00" x2="213.30" y2="260.00" stroke="#777" stroke-width="0.8" />
<text x="210.10" y="261.10" font-size="6.3" text-anchor="end" font-weight="normal" fill="#333" stroke="#333" stroke-width="0.15">0</text>
<line x1="210.80" y1="247.50" x2="213.30" y2="247.50" stroke="#777" stroke-width="0.8" />
<text x="210.10" y="248.60" font-size="6.3" text-anchor="end" font-weight="normal" fill="#333" stroke="#333" stroke-width="0.15">50</text>
<line x1="210.80" y1="235.00" x2="213.30" y2="235.00" stroke="#777" stroke-width="0.8" />
<text x="210.10" y="236.10" font-size="6.3" text-anchor="end" font-weight="normal" fill="#333" stroke="#333" stroke-width="0.15">100</text>
<line x1="210.80" y1="222.50" x2="213.30" y2="222.50" stroke="#777" stroke-width="0.8" />
<text x="210.10" y="223.60" font-size="6.3" text-anchor="end" font-weight="normal" fill="#333" stroke="#333" stroke-width="0.15">150</text>
<line x1="210.80" y1="210.00" x2="213.30" y2="210.00" stroke="#777" stroke-width="0.8" />
<text x="210.10" y="211.10" font-size="6.3" text-anchor="end" font-weight="normal" fill="#333" stroke="#333" stroke-width="0.15">200</text>
<line x1="210.80" y1="197.50" x2="213.30" y2="197.50" stroke="#777" stroke-width="0.8" />
<text x="210.10" y="198.60" font-size="6.3" text-anchor="end" font-weight="normal" fill="#333" stroke="#333" stroke-width="0.15">250</text>
<line x1="210.80" y1="185.00" x2="213.30" y2="185.00" stroke="#777" stroke-width="0.8" />
<text x="210.10" y="186.10" font-size="6.3" text-anchor="end" font-weight="normal" fill="#333" stroke="#333" stroke-width="0.15">300</text>
<line x1="210.80" y1="172.50" x2="213.30" y2="172.50" stroke="#777" stroke-width="0.8" />
<text x="210.10" y="173.60" font-size="6.3" text-anchor="end" font-weight="normal" fill="#333" stroke="#333" stroke-width="0.15">350</text>
<line x1="210.80" y1="160.00" x2="213.30" y2="160.00" stroke="#777" stroke-width="0.8" />
<text x="210.10" y="161.10" font-size="6.3" text-anchor="end" font-weight="normal" fill="#333" stroke="#333" stroke-width="0.15">400</text>
<line x1="215.40" y1="260.00" x2="215.40" y2="262.20" stroke="#777" stroke-width="0.8" />
<text x="215.40" y="267.80" font-size="5.8" text-anchor="middle" font-weight="normal" fill="#333" stroke="#333" stroke-width="0.15">-10<tspan font-size="4.2" dy="-2.2">2</tspan></text>
<line x1="229.30" y1="260.00" x2="229.30" y2="262.20" stroke="#777" stroke-width="0.8" />
<text x="229.30" y="267.80" font-size="5.8" text-anchor="middle" font-weight="normal" fill="#333" stroke="#333" stroke-width="0.15">0</text>
<line x1="243.00" y1="260.00" x2="243.00" y2="262.20" stroke="#777" stroke-width="0.8" />
<text x="243.00" y="267.80" font-size="5.8" text-anchor="middle" font-weight="normal" fill="#333" stroke="#333" stroke-width="0.15">10<tspan font-size="4.2" dy="-2.2">2</tspan></text>
<line x1="274.70" y1="260.00" x2="274.70" y2="262.20" stroke="#777" stroke-width="0.8" />
<text x="274.70" y="267.80" font-size="5.8" text-anchor="middle" font-weight="normal" fill="#333" stroke="#333" stroke-width="0.15">10<tspan font-size="4.2" dy="-2.2">3</tspan></text>
<line x1="305.30" y1="260.00" x2="305.30" y2="262.20" stroke="#777" stroke-width="0.8" />
<text x="305.30" y="267.80" font-size="5.8" text-anchor="middle" font-weight="normal" fill="#333" stroke="#333" stroke-width="0.15">10<tspan font-size="4.2" dy="-2.2">4</tspan></text>
<line x1="334.00" y1="260.00" x2="334.00" y2="262.20" stroke="#777" stroke-width="0.8" />
<text x="334.00" y="267.80" font-size="5.8" text-anchor="middle" font-weight="normal" fill="#333" stroke="#333" stroke-width="0.15">10<tspan font-size="4.2" dy="-2.2">5</tspan></text>
<line x1="252.68" y1="260.00" x2="252.68" y2="261.30" stroke="#aaa" stroke-width="0.5" />
<line x1="257.88" y1="260.00" x2="257.88" y2="261.30" stroke="#aaa" stroke-width="0.5" />
<line x1="261.56" y1="260.00" x2="261.56" y2="261.30" stroke="#aaa" stroke-width="0.5" />
<line x1="264.42" y1="260.00" x2="264.42" y2="261.30" stroke="#aaa" stroke-width="0.5" />
<line x1="266.76" y1="260.00" x2="266.76" y2="261.30" stroke="#aaa" stroke-width="0.5" />
<line x1="268.73" y1="260.00" x2="268.73" y2="261.30" stroke="#aaa" stroke-width="0.5" />
<line x1="270.44" y1="260.00" x2="270.44" y2="261.30" stroke="#aaa" stroke-width="0.5" />
<line x1="271.95" y1="260.00" x2="271.95" y2="261.30" stroke="#aaa" stroke-width="0.5" />
<line x1="282.18" y1="260.00" x2="282.18" y2="261.30" stroke="#aaa" stroke-width="0.5" />
<line x1="287.38" y1="260.00" x2="287.38" y2="261.30" stroke="#aaa" stroke-width="0.5" />
<line x1="291.06" y1="260.00" x2="291.06" y2="261.30" stroke="#aaa" stroke-width="0.5" />
<line x1="293.92" y1="260.00" x2="293.92" y2="261.30" stroke="#aaa" stroke-width="0.5" />
<line x1="296.26" y1="260.00" x2="296.26" y2="261.30" stroke="#aaa" stroke-width="0.5" />
<line x1="298.23" y1="260.00" x2="298.23" y2="261.30" stroke="#aaa" stroke-width="0.5" />
<line x1="299.94" y1="260.00" x2="299.94" y2="261.30" stroke="#aaa" stroke-width="0.5" />
<line x1="301.45" y1="260.00" x2="301.45" y2="261.30" stroke="#aaa" stroke-width="0.5" />
<line x1="311.68" y1="260.00" x2="311.68" y2="261.30" stroke="#aaa" stroke-width="0.5" />
<line x1="316.88" y1="260.00" x2="316.88" y2="261.30" stroke="#aaa" stroke-width="0.5" />
<line x1="320.56" y1="260.00" x2="320.56" y2="261.30" stroke="#aaa" stroke-width="0.5" />
<line x1="323.42" y1="260.00" x2="323.42" y2="261.30" stroke="#aaa" stroke-width="0.5" />
<line x1="325.76" y1="260.00" x2="325.76" y2="261.30" stroke="#aaa" stroke-width="0.5" />
<line x1="327.73" y1="260.00" x2="327.73" y2="261.30" stroke="#aaa" stroke-width="0.5" />
<line x1="329.44" y1="260.00" x2="329.44" y2="261.30" stroke="#aaa" stroke-width="0.5" />
<line x1="330.95" y1="260.00" x2="330.95" y2="261.30" stroke="#aaa" stroke-width="0.5" />
<text transform="translate(196.9,203.5) rotate(-90)" font-size="7.6" text-anchor="middle" fill="#333" textLength="19.5" lengthAdjust="spacingAndGlyphs" stroke="#333" stroke-width="0.25">Count</text>
<text x="269.40" y="158.70" font-size="9.8" text-anchor="middle" font-weight="normal" fill="#3a3a3a" textLength="22.7" lengthAdjust="spacingAndGlyphs" stroke="#3a3a3a" stroke-width="0.3">CD83</text>
<text x="279.00" y="201.70" font-size="10.3" text-anchor="middle" font-weight="normal" fill="#3a3a3a" textLength="18.2" lengthAdjust="spacingAndGlyphs" stroke="#3a3a3a" stroke-width="0.25">73%</text>
<polygon points="373.3,260.0 379.5,259.6 380.4,259.2 381.3,258.9 382.2,258.6 383.1,258.2 383.9,256.6 384.8,255.0 385.7,251.7 386.6,248.4 387.5,242.7 388.4,236.0 389.3,228.5 390.2,220.4 391.1,212.5 392.0,203.7 392.9,197.2 393.8,189.4 394.7,185.3 395.6,181.5 396.4,179.6 397.3,177.7 398.5,177.7 400.0,180.1 401.5,189.4 402.4,197.2 403.3,203.6 404.2,211.5 405.1,219.1 406.0,226.2 406.9,233.1 407.8,237.6 408.7,242.9 409.6,247.0 410.4,251.0 411.6,253.7 412.4,255.2 413.3,257.0 414.3,258.0 415.3,259.0 416.3,260.0 501.3,260.0" fill="#8c8c8c" stroke="#555" stroke-width="0.6"/>
<polygon points="373.3,260.0 387.8,260.0 388.6,259.9 389.3,259.7 390.1,259.6 390.8,259.4 391.6,259.2 392.3,259.1 393.1,258.9 393.8,258.8 394.6,258.5 395.4,258.2 396.2,257.9 396.9,257.6 397.7,257.3 398.5,257.0 399.3,256.7 400.1,256.3 400.9,256.8 401.7,255.8 402.5,255.7 403.3,256.2 404.1,255.3 404.9,255.1 405.7,255.5 406.5,254.5 407.3,255.0 408.1,254.7 408.9,254.3 409.7,254.1 410.4,253.9 411.2,254.4 412.0,254.0 412.8,254.3 413.5,253.9 414.2,253.5 415.0,253.9 415.7,253.3 416.4,252.4 417.2,253.5 418.0,253.3 418.8,254.0 419.6,253.2 420.4,254.2 421.2,254.2 422.0,253.3 422.8,253.6 423.6,253.3 424.3,253.0 425.1,253.1 425.9,253.0 426.7,253.0 427.4,252.5 428.2,251.9 428.9,251.3 429.7,250.7 430.5,249.1 431.4,250.2 432.2,250.0 433.0,249.3 433.8,248.5 434.7,245.9 435.5,244.5 436.3,243.8 437.1,242.2 437.9,241.9 438.7,241.0 439.5,240.0 440.3,237.7 441.1,237.0 442.0,234.8 442.8,233.4 443.7,231.0 444.6,228.8 445.5,227.5 446.3,227.1 447.1,224.7 447.9,222.9 448.9,222.1 449.9,221.9 450.7,221.4 451.4,220.0 452.2,219.2 453.0,220.3 453.7,220.4 454.5,221.4 455.3,222.3 456.1,225.2 456.9,225.4 457.7,226.6 458.4,228.9 459.2,229.7 460.0,231.9 460.7,233.1 461.5,235.8 462.3,239.8 463.1,241.0 463.9,244.6 464.7,245.7 465.4,249.4 466.2,252.0 467.0,253.0 467.7,254.4 468.5,256.0 469.2,256.6 470.0,257.4 470.8,258.1 471.5,258.8 472.2,259.1 473.0,259.3 473.7,259.6 474.4,259.8 475.4,259.9 476.3,260.0 501.3,260.0" fill="#000"/>
<line x1="373.30" y1="260.20" x2="501.80" y2="260.20" stroke="#666" stroke-width="1.5" />
<line x1="373.30" y1="260.00" x2="373.30" y2="149.00" stroke="#aaa" stroke-width="0.8" />
<line x1="371.80" y1="260.00" x2="373.70" y2="260.00" stroke="#999" stroke-width="0.6" />
<line x1="371.80" y1="257.50" x2="373.70" y2="257.50" stroke="#999" stroke-width="0.6" />
<line x1="371.80" y1="255.00" x2="373.70" y2="255.00" stroke="#999" stroke-width="0.6" />
<line x1="371.80" y1="252.50" x2="373.70" y2="252.50" stroke="#999" stroke-width="0.6" />
<line x1="371.80" y1="250.00" x2="373.70" y2="250.00" stroke="#999" stroke-width="0.6" />
<line x1="371.80" y1="247.50" x2="373.70" y2="247.50" stroke="#999" stroke-width="0.6" />
<line x1="371.80" y1="245.00" x2="373.70" y2="245.00" stroke="#999" stroke-width="0.6" />
<line x1="371.80" y1="242.50" x2="373.70" y2="242.50" stroke="#999" stroke-width="0.6" />
<line x1="371.80" y1="240.00" x2="373.70" y2="240.00" stroke="#999" stroke-width="0.6" />
<line x1="371.80" y1="237.50" x2="373.70" y2="237.50" stroke="#999" stroke-width="0.6" />
<line x1="371.80" y1="235.00" x2="373.70" y2="235.00" stroke="#999" stroke-width="0.6" />
<line x1="371.80" y1="232.50" x2="373.70" y2="232.50" stroke="#999" stroke-width="0.6" />
<line x1="371.80" y1="230.00" x2="373.70" y2="230.00" stroke="#999" stroke-width="0.6" />
<line x1="371.80" y1="227.50" x2="373.70" y2="227.50" stroke="#999" stroke-width="0.6" />
<line x1="371.80" y1="225.00" x2="373.70" y2="225.00" stroke="#999" stroke-width="0.6" />
<line x1="371.80" y1="222.50" x2="373.70" y2="222.50" stroke="#999" stroke-width="0.6" />
<line x1="371.80" y1="220.00" x2="373.70" y2="220.00" stroke="#999" stroke-width="0.6" />
<line x1="371.80" y1="217.50" x2="373.70" y2="217.50" stroke="#999" stroke-width="0.6" />
<line x1="371.80" y1="215.00" x2="373.70" y2="215.00" stroke="#999" stroke-width="0.6" />
<line x1="371.80" y1="212.50" x2="373.70" y2="212.50" stroke="#999" stroke-width="0.6" />
<line x1="371.80" y1="210.00" x2="373.70" y2="210.00" stroke="#999" stroke-width="0.6" />
<line x1="371.80" y1="207.50" x2="373.70" y2="207.50" stroke="#999" stroke-width="0.6" />
<line x1="371.80" y1="205.00" x2="373.70" y2="205.00" stroke="#999" stroke-width="0.6" />
<line x1="371.80" y1="202.50" x2="373.70" y2="202.50" stroke="#999" stroke-width="0.6" />
<line x1="371.80" y1="200.00" x2="373.70" y2="200.00" stroke="#999" stroke-width="0.6" />
<line x1="371.80" y1="197.50" x2="373.70" y2="197.50" stroke="#999" stroke-width="0.6" />
<line x1="371.80" y1="195.00" x2="373.70" y2="195.00" stroke="#999" stroke-width="0.6" />
<line x1="371.80" y1="192.50" x2="373.70" y2="192.50" stroke="#999" stroke-width="0.6" />
<line x1="371.80" y1="190.00" x2="373.70" y2="190.00" stroke="#999" stroke-width="0.6" />
<line x1="371.80" y1="187.50" x2="373.70" y2="187.50" stroke="#999" stroke-width="0.6" />
<line x1="371.80" y1="185.00" x2="373.70" y2="185.00" stroke="#999" stroke-width="0.6" />
<line x1="371.80" y1="182.50" x2="373.70" y2="182.50" stroke="#999" stroke-width="0.6" />
<line x1="371.80" y1="180.00" x2="373.70" y2="180.00" stroke="#999" stroke-width="0.6" />
<line x1="371.80" y1="177.50" x2="373.70" y2="177.50" stroke="#999" stroke-width="0.6" />
<line x1="371.80" y1="175.00" x2="373.70" y2="175.00" stroke="#999" stroke-width="0.6" />
<line x1="371.80" y1="172.50" x2="373.70" y2="172.50" stroke="#999" stroke-width="0.6" />
<line x1="371.80" y1="170.00" x2="373.70" y2="170.00" stroke="#999" stroke-width="0.6" />
<line x1="371.80" y1="167.50" x2="373.70" y2="167.50" stroke="#999" stroke-width="0.6" />
<line x1="371.80" y1="165.00" x2="373.70" y2="165.00" stroke="#999" stroke-width="0.6" />
<line x1="371.80" y1="162.50" x2="373.70" y2="162.50" stroke="#999" stroke-width="0.6" />
<line x1="371.80" y1="160.00" x2="373.70" y2="160.00" stroke="#999" stroke-width="0.6" />
<line x1="371.80" y1="157.50" x2="373.70" y2="157.50" stroke="#999" stroke-width="0.6" />
<line x1="371.80" y1="155.00" x2="373.70" y2="155.00" stroke="#999" stroke-width="0.6" />
<line x1="371.80" y1="152.50" x2="373.70" y2="152.50" stroke="#999" stroke-width="0.6" />
<line x1="371.80" y1="150.00" x2="373.70" y2="150.00" stroke="#999" stroke-width="0.6" />
<line x1="370.80" y1="260.00" x2="373.30" y2="260.00" stroke="#777" stroke-width="0.8" />
<text x="370.10" y="261.10" font-size="6.3" text-anchor="end" font-weight="normal" fill="#333" stroke="#333" stroke-width="0.15">0</text>
<line x1="370.80" y1="247.50" x2="373.30" y2="247.50" stroke="#777" stroke-width="0.8" />
<text x="370.10" y="248.60" font-size="6.3" text-anchor="end" font-weight="normal" fill="#333" stroke="#333" stroke-width="0.15">50</text>
<line x1="370.80" y1="235.00" x2="373.30" y2="235.00" stroke="#777" stroke-width="0.8" />
<text x="370.10" y="236.10" font-size="6.3" text-anchor="end" font-weight="normal" fill="#333" stroke="#333" stroke-width="0.15">100</text>
<line x1="370.80" y1="222.50" x2="373.30" y2="222.50" stroke="#777" stroke-width="0.8" />
<text x="370.10" y="223.60" font-size="6.3" text-anchor="end" font-weight="normal" fill="#333" stroke="#333" stroke-width="0.15">150</text>
<line x1="370.80" y1="210.00" x2="373.30" y2="210.00" stroke="#777" stroke-width="0.8" />
<text x="370.10" y="211.10" font-size="6.3" text-anchor="end" font-weight="normal" fill="#333" stroke="#333" stroke-width="0.15">200</text>
<line x1="370.80" y1="197.50" x2="373.30" y2="197.50" stroke="#777" stroke-width="0.8" />
<text x="370.10" y="198.60" font-size="6.3" text-anchor="end" font-weight="normal" fill="#333" stroke="#333" stroke-width="0.15">250</text>
<line x1="370.80" y1="185.00" x2="373.30" y2="185.00" stroke="#777" stroke-width="0.8" />
<text x="370.10" y="186.10" font-size="6.3" text-anchor="end" font-weight="normal" fill="#333" stroke="#333" stroke-width="0.15">300</text>
<line x1="370.80" y1="172.50" x2="373.30" y2="172.50" stroke="#777" stroke-width="0.8" />
<text x="370.10" y="173.60" font-size="6.3" text-anchor="end" font-weight="normal" fill="#333" stroke="#333" stroke-width="0.15">350</text>
<line x1="370.80" y1="160.00" x2="373.30" y2="160.00" stroke="#777" stroke-width="0.8" />
<text x="370.10" y="161.10" font-size="6.3" text-anchor="end" font-weight="normal" fill="#333" stroke="#333" stroke-width="0.15">400</text>
<line x1="386.50" y1="260.00" x2="386.50" y2="262.20" stroke="#777" stroke-width="0.8" />
<text x="386.50" y="267.80" font-size="5.8" text-anchor="middle" font-weight="normal" fill="#333" stroke="#333" stroke-width="0.15">0</text>
<line x1="402.90" y1="260.00" x2="402.90" y2="262.20" stroke="#777" stroke-width="0.8" />
<text x="402.90" y="267.80" font-size="5.8" text-anchor="middle" font-weight="normal" fill="#333" stroke="#333" stroke-width="0.15">10<tspan font-size="4.2" dy="-2.2">2</tspan></text>
<line x1="433.50" y1="260.00" x2="433.50" y2="262.20" stroke="#777" stroke-width="0.8" />
<text x="433.50" y="267.80" font-size="5.8" text-anchor="middle" font-weight="normal" fill="#333" stroke="#333" stroke-width="0.15">10<tspan font-size="4.2" dy="-2.2">3</tspan></text>
<line x1="462.10" y1="260.00" x2="462.10" y2="262.20" stroke="#777" stroke-width="0.8" />
<text x="462.10" y="267.80" font-size="5.8" text-anchor="middle" font-weight="normal" fill="#333" stroke="#333" stroke-width="0.15">10<tspan font-size="4.2" dy="-2.2">4</tspan></text>
<line x1="491.80" y1="260.00" x2="491.80" y2="262.20" stroke="#777" stroke-width="0.8" />
<text x="491.80" y="267.80" font-size="5.8" text-anchor="middle" font-weight="normal" fill="#333" stroke="#333" stroke-width="0.15">10<tspan font-size="4.2" dy="-2.2">5</tspan></text>
<line x1="412.68" y1="260.00" x2="412.68" y2="261.30" stroke="#aaa" stroke-width="0.5" />
<line x1="417.88" y1="260.00" x2="417.88" y2="261.30" stroke="#aaa" stroke-width="0.5" />
<line x1="421.56" y1="260.00" x2="421.56" y2="261.30" stroke="#aaa" stroke-width="0.5" />
<line x1="424.42" y1="260.00" x2="424.42" y2="261.30" stroke="#aaa" stroke-width="0.5" />
<line x1="426.76" y1="260.00" x2="426.76" y2="261.30" stroke="#aaa" stroke-width="0.5" />
<line x1="428.73" y1="260.00" x2="428.73" y2="261.30" stroke="#aaa" stroke-width="0.5" />
<line x1="430.44" y1="260.00" x2="430.44" y2="261.30" stroke="#aaa" stroke-width="0.5" />
<line x1="431.95" y1="260.00" x2="431.95" y2="261.30" stroke="#aaa" stroke-width="0.5" />
<line x1="442.18" y1="260.00" x2="442.18" y2="261.30" stroke="#aaa" stroke-width="0.5" />
<line x1="447.38" y1="260.00" x2="447.38" y2="261.30" stroke="#aaa" stroke-width="0.5" />
<line x1="451.06" y1="260.00" x2="451.06" y2="261.30" stroke="#aaa" stroke-width="0.5" />
<line x1="453.92" y1="260.00" x2="453.92" y2="261.30" stroke="#aaa" stroke-width="0.5" />
<line x1="456.26" y1="260.00" x2="456.26" y2="261.30" stroke="#aaa" stroke-width="0.5" />
<line x1="458.23" y1="260.00" x2="458.23" y2="261.30" stroke="#aaa" stroke-width="0.5" />
<line x1="459.94" y1="260.00" x2="459.94" y2="261.30" stroke="#aaa" stroke-width="0.5" />
<line x1="461.45" y1="260.00" x2="461.45" y2="261.30" stroke="#aaa" stroke-width="0.5" />
<line x1="471.68" y1="260.00" x2="471.68" y2="261.30" stroke="#aaa" stroke-width="0.5" />
<line x1="476.88" y1="260.00" x2="476.88" y2="261.30" stroke="#aaa" stroke-width="0.5" />
<line x1="480.56" y1="260.00" x2="480.56" y2="261.30" stroke="#aaa" stroke-width="0.5" />
<line x1="483.42" y1="260.00" x2="483.42" y2="261.30" stroke="#aaa" stroke-width="0.5" />
<line x1="485.76" y1="260.00" x2="485.76" y2="261.30" stroke="#aaa" stroke-width="0.5" />
<line x1="487.73" y1="260.00" x2="487.73" y2="261.30" stroke="#aaa" stroke-width="0.5" />
<line x1="489.44" y1="260.00" x2="489.44" y2="261.30" stroke="#aaa" stroke-width="0.5" />
<line x1="490.95" y1="260.00" x2="490.95" y2="261.30" stroke="#aaa" stroke-width="0.5" />
<text transform="translate(356.9,203.5) rotate(-90)" font-size="7.6" text-anchor="middle" fill="#333" textLength="19.5" lengthAdjust="spacingAndGlyphs" stroke="#333" stroke-width="0.25">Count</text>
<text x="443.90" y="158.70" font-size="9.8" text-anchor="middle" font-weight="normal" fill="#3a3a3a" textLength="69.9" lengthAdjust="spacingAndGlyphs" stroke="#3a3a3a" stroke-width="0.3">HLA-DP, DQ, DR</text>
<text x="429.70" y="201.70" font-size="10.3" text-anchor="middle" font-weight="normal" fill="#3a3a3a" textLength="19.0" lengthAdjust="spacingAndGlyphs" stroke="#3a3a3a" stroke-width="0.25">93%</text>
<polygon points="533.4,260.0 536.3,259.7 537.1,259.0 538.0,258.2 538.8,257.5 540.0,253.8 540.9,247.9 541.9,241.0 542.9,232.4 543.8,222.5 544.8,212.0 545.7,201.7 547.0,183.8 547.9,175.6 548.9,166.4 550.4,159.5 551.4,156.3 552.4,160.1 553.7,165.9 555.0,184.3 556.5,210.3 557.4,219.2 558.2,228.2 559.1,236.8 560.0,245.1 560.9,248.8 561.9,254.0 562.9,255.7 563.8,258.1 564.8,258.9 565.7,259.7 566.5,259.9 567.4,260.0 661.4,260.0" fill="#8c8c8c" stroke="#555" stroke-width="0.6"/>
<polygon points="533.4,260.0 561.3,260.0 562.0,259.6 562.8,259.2 563.5,258.9 564.3,258.5 565.0,258.1 565.8,257.6 566.5,257.1 567.3,256.8 568.0,256.0 568.8,255.1 569.5,255.0 570.3,254.8 571.0,254.6 571.7,254.4 572.5,252.8 573.2,252.7 574.0,252.4 574.8,250.7 575.5,249.3 576.3,247.8 577.1,247.9 577.9,246.6 578.6,245.6 579.4,243.5 580.2,241.8 580.9,241.3 581.7,241.7 582.5,240.3 583.3,240.1 584.2,239.1 585.0,237.5 585.9,235.8 586.9,233.0 587.9,230.9 588.8,228.3 589.6,226.1 590.5,226.3 591.3,224.3 592.2,224.0 593.2,223.6 594.1,223.7 595.0,222.9 595.9,221.6 596.9,220.7 597.9,222.0 599.0,224.0 599.7,225.2 600.5,225.6 601.2,225.1 602.0,225.3 602.8,225.3 603.6,225.4 604.4,226.4 605.1,226.7 605.9,228.1 606.7,229.3 607.5,230.3 608.3,233.4 609.1,235.1 609.9,237.4 610.7,240.3 611.4,242.7 612.2,244.8 613.0,246.2 613.7,248.2 614.5,250.3 615.2,251.5 615.9,251.8 616.6,252.8 617.3,253.5 618.0,254.5 618.7,256.2 619.4,256.5 620.1,257.1 620.8,257.8 621.5,258.5 622.2,258.8 622.9,259.1 623.6,259.4 624.3,259.7 625.0,260.0 625.8,260.0 626.6,260.0 627.4,260.0 661.4,260.0" fill="#000"/>
<line x1="533.40" y1="260.20" x2="661.90" y2="260.20" stroke="#666" stroke-width="1.5" />
<line x1="533.40" y1="260.00" x2="533.40" y2="149.00" stroke="#aaa" stroke-width="0.8" />
<line x1="531.90" y1="260.00" x2="533.80" y2="260.00" stroke="#999" stroke-width="0.6" />
<line x1="531.90" y1="257.50" x2="533.80" y2="257.50" stroke="#999" stroke-width="0.6" />
<line x1="531.90" y1="255.00" x2="533.80" y2="255.00" stroke="#999" stroke-width="0.6" />
<line x1="531.90" y1="252.50" x2="533.80" y2="252.50" stroke="#999" stroke-width="0.6" />
<line x1="531.90" y1="250.00" x2="533.80" y2="250.00" stroke="#999" stroke-width="0.6" />
<line x1="531.90" y1="247.50" x2="533.80" y2="247.50" stroke="#999" stroke-width="0.6" />
<line x1="531.90" y1="245.00" x2="533.80" y2="245.00" stroke="#999" stroke-width="0.6" />
<line x1="531.90" y1="242.50" x2="533.80" y2="242.50" stroke="#999" stroke-width="0.6" />
<line x1="531.90" y1="240.00" x2="533.80" y2="240.00" stroke="#999" stroke-width="0.6" />
<line x1="531.90" y1="237.50" x2="533.80" y2="237.50" stroke="#999" stroke-width="0.6" />
<line x1="531.90" y1="235.00" x2="533.80" y2="235.00" stroke="#999" stroke-width="0.6" />
<line x1="531.90" y1="232.50" x2="533.80" y2="232.50" stroke="#999" stroke-width="0.6" />
<line x1="531.90" y1="230.00" x2="533.80" y2="230.00" stroke="#999" stroke-width="0.6" />
<line x1="531.90" y1="227.50" x2="533.80" y2="227.50" stroke="#999" stroke-width="0.6" />
<line x1="531.90" y1="225.00" x2="533.80" y2="225.00" stroke="#999" stroke-width="0.6" />
<line x1="531.90" y1="222.50" x2="533.80" y2="222.50" stroke="#999" stroke-width="0.6" />
<line x1="531.90" y1="220.00" x2="533.80" y2="220.00" stroke="#999" stroke-width="0.6" />
<line x1="531.90" y1="217.50" x2="533.80" y2="217.50" stroke="#999" stroke-width="0.6" />
<line x1="531.90" y1="215.00" x2="533.80" y2="215.00" stroke="#999" stroke-width="0.6" />
<line x1="531.90" y1="212.50" x2="533.80" y2="212.50" stroke="#999" stroke-width="0.6" />
<line x1="531.90" y1="210.00" x2="533.80" y2="210.00" stroke="#999" stroke-width="0.6" />
<line x1="531.90" y1="207.50" x2="533.80" y2="207.50" stroke="#999" stroke-width="0.6" />
<line x1="531.90" y1="205.00" x2="533.80" y2="205.00" stroke="#999" stroke-width="0.6" />
<line x1="531.90" y1="202.50" x2="533.80" y2="202.50" stroke="#999" stroke-width="0.6" />
<line x1="531.90" y1="200.00" x2="533.80" y2="200.00" stroke="#999" stroke-width="0.6" />
<line x1="531.90" y1="197.50" x2="533.80" y2="197.50" stroke="#999" stroke-width="0.6" />
<line x1="531.90" y1="195.00" x2="533.80" y2="195.00" stroke="#999" stroke-width="0.6" />
<line x1="531.90" y1="192.50" x2="533.80" y2="192.50" stroke="#999" stroke-width="0.6" />
<line x1="531.90" y1="190.00" x2="533.80" y2="190.00" stroke="#999" stroke-width="0.6" />
<line x1="531.90" y1="187.50" x2="533.80" y2="187.50" stroke="#999" stroke-width="0.6" />
<line x1="531.90" y1="185.00" x2="533.80" y2="185.00" stroke="#999" stroke-width="0.6" />
<line x1="531.90" y1="182.50" x2="533.80" y2="182.50" stroke="#999" stroke-width="0.6" />
<line x1="531.90" y1="180.00" x2="533.80" y2="180.00" stroke="#999" stroke-width="0.6" />
<line x1="531.90" y1="177.50" x2="533.80" y2="177.50" stroke="#999" stroke-width="0.6" />
<line x1="531.90" y1="175.00" x2="533.80" y2="175.00" stroke="#999" stroke-width="0.6" />
<line x1="531.90" y1="172.50" x2="533.80" y2="172.50" stroke="#999" stroke-width="0.6" />
<line x1="531.90" y1="170.00" x2="533.80" y2="170.00" stroke="#999" stroke-width="0.6" />
<line x1="531.90" y1="167.50" x2="533.80" y2="167.50" stroke="#999" stroke-width="0.6" />
<line x1="531.90" y1="165.00" x2="533.80" y2="165.00" stroke="#999" stroke-width="0.6" />
<line x1="531.90" y1="162.50" x2="533.80" y2="162.50" stroke="#999" stroke-width="0.6" />
<line x1="531.90" y1="160.00" x2="533.80" y2="160.00" stroke="#999" stroke-width="0.6" />
<line x1="531.90" y1="157.50" x2="533.80" y2="157.50" stroke="#999" stroke-width="0.6" />
<line x1="531.90" y1="155.00" x2="533.80" y2="155.00" stroke="#999" stroke-width="0.6" />
<line x1="531.90" y1="152.50" x2="533.80" y2="152.50" stroke="#999" stroke-width="0.6" />
<line x1="531.90" y1="150.00" x2="533.80" y2="150.00" stroke="#999" stroke-width="0.6" />
<line x1="530.90" y1="260.00" x2="533.40" y2="260.00" stroke="#777" stroke-width="0.8" />
<text x="530.20" y="261.10" font-size="6.3" text-anchor="end" font-weight="normal" fill="#333" stroke="#333" stroke-width="0.15">0</text>
<line x1="530.90" y1="247.50" x2="533.40" y2="247.50" stroke="#777" stroke-width="0.8" />
<text x="530.20" y="248.60" font-size="6.3" text-anchor="end" font-weight="normal" fill="#333" stroke="#333" stroke-width="0.15">50</text>
<line x1="530.90" y1="235.00" x2="533.40" y2="235.00" stroke="#777" stroke-width="0.8" />
<text x="530.20" y="236.10" font-size="6.3" text-anchor="end" font-weight="normal" fill="#333" stroke="#333" stroke-width="0.15">100</text>
<line x1="530.90" y1="222.50" x2="533.40" y2="222.50" stroke="#777" stroke-width="0.8" />
<text x="530.20" y="223.60" font-size="6.3" text-anchor="end" font-weight="normal" fill="#333" stroke="#333" stroke-width="0.15">150</text>
<line x1="530.90" y1="210.00" x2="533.40" y2="210.00" stroke="#777" stroke-width="0.8" />
<text x="530.20" y="211.10" font-size="6.3" text-anchor="end" font-weight="normal" fill="#333" stroke="#333" stroke-width="0.15">200</text>
<line x1="530.90" y1="197.50" x2="533.40" y2="197.50" stroke="#777" stroke-width="0.8" />
<text x="530.20" y="198.60" font-size="6.3" text-anchor="end" font-weight="normal" fill="#333" stroke="#333" stroke-width="0.15">250</text>
<line x1="530.90" y1="185.00" x2="533.40" y2="185.00" stroke="#777" stroke-width="0.8" />
<text x="530.20" y="186.10" font-size="6.3" text-anchor="end" font-weight="normal" fill="#333" stroke="#333" stroke-width="0.15">300</text>
<line x1="530.90" y1="172.50" x2="533.40" y2="172.50" stroke="#777" stroke-width="0.8" />
<text x="530.20" y="173.60" font-size="6.3" text-anchor="end" font-weight="normal" fill="#333" stroke="#333" stroke-width="0.15">350</text>
<line x1="530.90" y1="160.00" x2="533.40" y2="160.00" stroke="#777" stroke-width="0.8" />
<text x="530.20" y="161.10" font-size="6.3" text-anchor="end" font-weight="normal" fill="#333" stroke="#333" stroke-width="0.15">400</text>
<line x1="546.60" y1="260.00" x2="546.60" y2="262.20" stroke="#777" stroke-width="0.8" />
<text x="546.60" y="267.80" font-size="5.8" text-anchor="middle" font-weight="normal" fill="#333" stroke="#333" stroke-width="0.15">0</text>
<line x1="563.00" y1="260.00" x2="563.00" y2="262.20" stroke="#777" stroke-width="0.8" />
<text x="563.00" y="267.80" font-size="5.8" text-anchor="middle" font-weight="normal" fill="#333" stroke="#333" stroke-width="0.15">10<tspan font-size="4.2" dy="-2.2">2</tspan></text>
<line x1="593.60" y1="260.00" x2="593.60" y2="262.20" stroke="#777" stroke-width="0.8" />
<text x="593.60" y="267.80" font-size="5.8" text-anchor="middle" font-weight="normal" fill="#333" stroke="#333" stroke-width="0.15">10<tspan font-size="4.2" dy="-2.2">3</tspan></text>
<line x1="622.20" y1="260.00" x2="622.20" y2="262.20" stroke="#777" stroke-width="0.8" />
<text x="622.20" y="267.80" font-size="5.8" text-anchor="middle" font-weight="normal" fill="#333" stroke="#333" stroke-width="0.15">10<tspan font-size="4.2" dy="-2.2">4</tspan></text>
<line x1="651.90" y1="260.00" x2="651.90" y2="262.20" stroke="#777" stroke-width="0.8" />
<text x="651.90" y="267.80" font-size="5.8" text-anchor="middle" font-weight="normal" fill="#333" stroke="#333" stroke-width="0.15">10<tspan font-size="4.2" dy="-2.2">5</tspan></text>
<line x1="572.78" y1="260.00" x2="572.78" y2="261.30" stroke="#aaa" stroke-width="0.5" />
<line x1="577.98" y1="260.00" x2="577.98" y2="261.30" stroke="#aaa" stroke-width="0.5" />
<line x1="581.66" y1="260.00" x2="581.66" y2="261.30" stroke="#aaa" stroke-width="0.5" />
<line x1="584.52" y1="260.00" x2="584.52" y2="261.30" stroke="#aaa" stroke-width="0.5" />
<line x1="586.86" y1="260.00" x2="586.86" y2="261.30" stroke="#aaa" stroke-width="0.5" />
<line x1="588.83" y1="260.00" x2="588.83" y2="261.30" stroke="#aaa" stroke-width="0.5" />
<line x1="590.54" y1="260.00" x2="590.54" y2="261.30" stroke="#aaa" stroke-width="0.5" />
<line x1="592.05" y1="260.00" x2="592.05" y2="261.30" stroke="#aaa" stroke-width="0.5" />
<line x1="602.28" y1="260.00" x2="602.28" y2="261.30" stroke="#aaa" stroke-width="0.5" />
<line x1="607.48" y1="260.00" x2="607.48" y2="261.30" stroke="#aaa" stroke-width="0.5" />
<line x1="611.16" y1="260.00" x2="611.16" y2="261.30" stroke="#aaa" stroke-width="0.5" />
<line x1="614.02" y1="260.00" x2="614.02" y2="261.30" stroke="#aaa" stroke-width="0.5" />
<line x1="616.36" y1="260.00" x2="616.36" y2="261.30" stroke="#aaa" stroke-width="0.5" />
<line x1="618.33" y1="260.00" x2="618.33" y2="261.30" stroke="#aaa" stroke-width="0.5" />
<line x1="620.04" y1="260.00" x2="620.04" y2="261.30" stroke="#aaa" stroke-width="0.5" />
<line x1="621.55" y1="260.00" x2="621.55" y2="261.30" stroke="#aaa" stroke-width="0.5" />
<line x1="631.78" y1="260.00" x2="631.78" y2="261.30" stroke="#aaa" stroke-width="0.5" />
<line x1="636.98" y1="260.00" x2="636.98" y2="261.30" stroke="#aaa" stroke-width="0.5" />
<line x1="640.66" y1="260.00" x2="640.66" y2="261.30" stroke="#aaa" stroke-width="0.5" />
<line x1="643.52" y1="260.00" x2="643.52" y2="261.30" stroke="#aaa" stroke-width="0.5" />
<line x1="645.86" y1="260.00" x2="645.86" y2="261.30" stroke="#aaa" stroke-width="0.5" />
<line x1="647.83" y1="260.00" x2="647.83" y2="261.30" stroke="#aaa" stroke-width="0.5" />
<line x1="649.54" y1="260.00" x2="649.54" y2="261.30" stroke="#aaa" stroke-width="0.5" />
<line x1="651.05" y1="260.00" x2="651.05" y2="261.30" stroke="#aaa" stroke-width="0.5" />
<text transform="translate(517.0,203.5) rotate(-90)" font-size="7.6" text-anchor="middle" fill="#333" textLength="19.5" lengthAdjust="spacingAndGlyphs" stroke="#333" stroke-width="0.25">Count</text>
<text x="598.10" y="158.70" font-size="9.8" text-anchor="middle" font-weight="normal" fill="#3a3a3a" textLength="48.6" lengthAdjust="spacingAndGlyphs" stroke="#3a3a3a" stroke-width="0.3">HLA-A, B, C</text>
<text x="594.40" y="201.70" font-size="10.3" text-anchor="middle" font-weight="normal" fill="#3a3a3a" textLength="18.9" lengthAdjust="spacingAndGlyphs" stroke="#3a3a3a" stroke-width="0.25">99%</text>
<line x1="44.80" y1="312.00" x2="44.80" y2="496.30" stroke="#000" stroke-width="2" />
<line x1="43.80" y1="495.30" x2="318.00" y2="495.30" stroke="#000" stroke-width="2" />
<line x1="39.00" y1="495.30" x2="44.80" y2="495.30" stroke="#000" stroke-width="1.6" />
<text x="36.60" y="498.90" font-size="10.3" text-anchor="end" font-weight="bold" fill="#000" >0</text>
<line x1="39.00" y1="458.80" x2="44.80" y2="458.80" stroke="#000" stroke-width="1.6" />
<text x="36.60" y="462.40" font-size="10.3" text-anchor="end" font-weight="bold" fill="#000" >20</text>
<line x1="39.00" y1="422.30" x2="44.80" y2="422.30" stroke="#000" stroke-width="1.6" />
<text x="36.60" y="425.90" font-size="10.3" text-anchor="end" font-weight="bold" fill="#000" >40</text>
<line x1="39.00" y1="385.80" x2="44.80" y2="385.80" stroke="#000" stroke-width="1.6" />
<text x="36.60" y="389.40" font-size="10.3" text-anchor="end" font-weight="bold" fill="#000" >60</text>
<line x1="39.00" y1="349.30" x2="44.80" y2="349.30" stroke="#000" stroke-width="1.6" />
<text x="36.60" y="352.90" font-size="10.3" text-anchor="end" font-weight="bold" fill="#000" >80</text>
<line x1="39.00" y1="312.80" x2="44.80" y2="312.80" stroke="#000" stroke-width="1.6" />
<text x="36.60" y="316.40" font-size="10.3" text-anchor="end" font-weight="bold" fill="#000" >100</text>
<line x1="63.90" y1="495.30" x2="63.90" y2="500.80" stroke="#000" stroke-width="1.6" />
<text transform="translate(67.5,510.1) rotate(-45)" font-size="10.8" font-weight="bold" text-anchor="end">30000</text>
<line x1="103.05" y1="495.30" x2="103.05" y2="500.80" stroke="#000" stroke-width="1.6" />
<text transform="translate(106.6,510.1) rotate(-45)" font-size="10.8" font-weight="bold" text-anchor="end">10000</text>
<line x1="142.20" y1="495.30" x2="142.20" y2="500.80" stroke="#000" stroke-width="1.6" />
<text transform="translate(145.8,510.1) rotate(-45)" font-size="10.8" font-weight="bold" text-anchor="end">3000</text>
<line x1="181.35" y1="495.30" x2="181.35" y2="500.80" stroke="#000" stroke-width="1.6" />
<text transform="translate(184.9,510.1) rotate(-45)" font-size="10.8" font-weight="bold" text-anchor="end">1000</text>
<line x1="220.50" y1="495.30" x2="220.50" y2="500.80" stroke="#000" stroke-width="1.6" />
<text transform="translate(224.1,510.1) rotate(-45)" font-size="10.8" font-weight="bold" text-anchor="end">300</text>
<line x1="259.65" y1="495.30" x2="259.65" y2="500.80" stroke="#000" stroke-width="1.6" />
<text transform="translate(263.2,510.1) rotate(-45)" font-size="10.8" font-weight="bold" text-anchor="end">100</text>
<line x1="298.80" y1="495.30" x2="298.80" y2="500.80" stroke="#000" stroke-width="1.6" />
<text transform="translate(302.4,510.1) rotate(-45)" font-size="10.8" font-weight="bold" text-anchor="end">PBL only</text>
<text transform="translate(11.6,404.6) rotate(-90)" font-size="12.5" font-weight="bold" text-anchor="middle">% proliferation</text>
<text x="180.20" y="564.90" font-size="12.4" text-anchor="middle" font-weight="bold" fill="#000" ># of DCP-001 cells</text>
<line x1="142.20" y1="370.29" x2="142.20" y2="342.55" stroke="#000" stroke-width="1.6" />
<line x1="137.70" y1="370.29" x2="146.70" y2="370.29" stroke="#000" stroke-width="1.6" />
<line x1="137.70" y1="342.55" x2="146.70" y2="342.55" stroke="#000" stroke-width="1.6" />
<line x1="181.35" y1="383.61" x2="181.35" y2="363.90" stroke="#000" stroke-width="1.6" />
<line x1="176.85" y1="383.61" x2="185.85" y2="383.61" stroke="#000" stroke-width="1.6" />
<line x1="176.85" y1="363.90" x2="185.85" y2="363.90" stroke="#000" stroke-width="1.6" />
<line x1="220.50" y1="461.90" x2="220.50" y2="383.61" stroke="#000" stroke-width="1.6" />
<line x1="216.00" y1="461.90" x2="225.00" y2="461.90" stroke="#000" stroke-width="1.6" />
<line x1="216.00" y1="383.61" x2="225.00" y2="383.61" stroke="#000" stroke-width="1.6" />
<line x1="220.50" y1="456.79" x2="220.50" y2="407.70" stroke="#000" stroke-width="1.6" />
<line x1="216.00" y1="456.79" x2="225.00" y2="456.79" stroke="#000" stroke-width="1.6" />
<line x1="216.00" y1="407.70" x2="225.00" y2="407.70" stroke="#000" stroke-width="1.6" />
<line x1="259.65" y1="457.89" x2="259.65" y2="431.24" stroke="#000" stroke-width="1.6" />
<line x1="255.15" y1="457.89" x2="264.15" y2="457.89" stroke="#000" stroke-width="1.6" />
<line x1="255.15" y1="431.24" x2="264.15" y2="431.24" stroke="#000" stroke-width="1.6" />
<line x1="259.65" y1="491.65" x2="259.65" y2="457.89" stroke="#000" stroke-width="1.6" />
<line x1="255.15" y1="491.65" x2="264.15" y2="491.65" stroke="#000" stroke-width="1.6" />
<line x1="255.15" y1="457.89" x2="264.15" y2="457.89" stroke="#000" stroke-width="1.6" />
<line x1="259.65" y1="494.39" x2="259.65" y2="467.93" stroke="#000" stroke-width="1.6" />
<line x1="255.15" y1="494.39" x2="264.15" y2="494.39" stroke="#000" stroke-width="1.6" />
<line x1="255.15" y1="467.93" x2="264.15" y2="467.93" stroke="#000" stroke-width="1.6" />
<line x1="298.80" y1="495.30" x2="298.80" y2="486.91" stroke="#000" stroke-width="1.6" />
<line x1="294.30" y1="495.30" x2="303.30" y2="495.30" stroke="#000" stroke-width="1.6" />
<line x1="294.30" y1="486.91" x2="303.30" y2="486.91" stroke="#000" stroke-width="1.6" />
<polyline points="63.9,350.9 103.0,345.3 142.2,356.4 181.3,398.4 220.5,432.9 259.6,479.8 298.8,493.5" fill="none" stroke="#000" stroke-width="1.7"/>
<polyline points="63.9,341.3 103.0,335.6 142.2,342.0 181.3,363.0 220.5,406.8 259.6,444.6 298.8,493.7" fill="none" stroke="#000" stroke-width="1.7"/>
<polyline points="63.9,349.3 103.0,343.8 142.2,348.6 181.3,374.9 220.5,448.8 259.6,467.2 298.8,493.5" fill="none" stroke="#000" stroke-width="1.7"/>
<polygon points="59.6,352.6 68.2,352.6 63.9,345.0" fill="#000"/>
<polygon points="98.8,347.1 107.3,347.1 103.0,339.5" fill="#000"/>
<polygon points="137.9,351.8 146.5,351.8 142.2,344.3" fill="#000"/>
<polygon points="177.0,378.1 185.7,378.1 181.3,370.6" fill="#000"/>
<polygon points="216.2,452.0 224.8,452.0 220.5,444.5" fill="#000"/>
<polygon points="255.3,470.5 263.9,470.5 259.6,462.9" fill="#000"/>
<polygon points="294.5,496.7 303.1,496.7 298.8,489.2" fill="#000"/>
<circle cx="63.9" cy="350.9" r="3.7" fill="#000"/>
<circle cx="103.0" cy="345.3" r="3.7" fill="#000"/>
<circle cx="142.2" cy="356.4" r="3.7" fill="#000"/>
<circle cx="181.3" cy="398.4" r="3.7" fill="#000"/>
<circle cx="220.5" cy="432.9" r="3.7" fill="#000"/>
<circle cx="259.6" cy="479.8" r="3.7" fill="#000"/>
<circle cx="298.8" cy="493.5" r="3.7" fill="#000"/>
<rect x="60.2" y="337.6" width="7.4" height="7.4" fill="#000"/>
<rect x="99.3" y="331.9" width="7.4" height="7.4" fill="#000"/>
<rect x="138.5" y="338.3" width="7.4" height="7.4" fill="#000"/>
<rect x="177.7" y="359.3" width="7.4" height="7.4" fill="#000"/>
<rect x="216.8" y="403.1" width="7.4" height="7.4" fill="#000"/>
<rect x="255.9" y="440.9" width="7.4" height="7.4" fill="#000"/>
<rect x="295.1" y="490.0" width="7.4" height="7.4" fill="#000"/>
<line x1="213.30" y1="306.30" x2="232.70" y2="306.30" stroke="#000" stroke-width="1.7" />
<circle cx="222.9" cy="306.3" r="3.7" fill="#000"/>
<text x="243.9" y="310.4" font-size="11.4" textLength="70" lengthAdjust="spacingAndGlyphs" fill="#111">mDC batch 1</text>
<line x1="213.30" y1="328.20" x2="232.70" y2="328.20" stroke="#000" stroke-width="1.7" />
<rect x="219.2" y="324.5" width="7.4" height="7.4" fill="#000"/>
<text x="243.9" y="332.3" font-size="11.4" textLength="70" lengthAdjust="spacingAndGlyphs" fill="#111">mDC batch 2</text>
<line x1="213.30" y1="350.10" x2="232.70" y2="350.10" stroke="#000" stroke-width="1.7" />
<polygon points="218.6,353.4 227.2,353.4 222.9,345.8" fill="#000"/>
<text x="243.9" y="354.2" font-size="11.4" textLength="70" lengthAdjust="spacingAndGlyphs" fill="#111">mDC batch 3</text>
<line x1="383.10" y1="309.90" x2="383.10" y2="499.90" stroke="#000" stroke-width="2" />
<line x1="382.10" y1="498.90" x2="668.30" y2="498.90" stroke="#000" stroke-width="2" />
<line x1="377.60" y1="498.90" x2="383.10" y2="498.90" stroke="#000" stroke-width="1.6" />
<text x="376.00" y="502.50" font-size="10.3" text-anchor="end" font-weight="bold" fill="#000" >0</text>
<line x1="377.60" y1="461.26" x2="383.10" y2="461.26" stroke="#000" stroke-width="1.6" />
<text x="376.00" y="464.86" font-size="10.3" text-anchor="end" font-weight="bold" fill="#000" >10</text>
<line x1="377.60" y1="423.62" x2="383.10" y2="423.62" stroke="#000" stroke-width="1.6" />
<text x="376.00" y="427.22" font-size="10.3" text-anchor="end" font-weight="bold" fill="#000" >20</text>
<line x1="377.60" y1="385.98" x2="383.10" y2="385.98" stroke="#000" stroke-width="1.6" />
<text x="376.00" y="389.58" font-size="10.3" text-anchor="end" font-weight="bold" fill="#000" >30</text>
<line x1="377.60" y1="348.34" x2="383.10" y2="348.34" stroke="#000" stroke-width="1.6" />
<text x="376.00" y="351.94" font-size="10.3" text-anchor="end" font-weight="bold" fill="#000" >40</text>
<line x1="377.60" y1="310.70" x2="383.10" y2="310.70" stroke="#000" stroke-width="1.6" />
<text x="376.00" y="314.30" font-size="10.3" text-anchor="end" font-weight="bold" fill="#000" >50</text>
<text transform="translate(355.8,405) rotate(-90)" font-size="13.3" font-weight="bold" text-anchor="middle">% Migration</text>
<line x1="428.20" y1="498.90" x2="428.20" y2="505.40" stroke="#000" stroke-width="1.6" />
<text x="428.20" y="517.00" font-size="11.6" text-anchor="middle" font-weight="bold" fill="#000" textLength="44" lengthAdjust="spacingAndGlyphs">Medium</text>
<line x1="401.60" y1="483.09" x2="401.60" y2="480.08" stroke="#000" stroke-width="1.6" />
<line x1="397.30" y1="480.08" x2="405.90" y2="480.08" stroke="#000" stroke-width="1.6" />
<rect x="393.8" y="483.1" width="15.6" height="15.8" fill="#fff" stroke="#000" stroke-width="1.6"/>
<line x1="428.20" y1="483.09" x2="428.20" y2="480.08" stroke="#000" stroke-width="1.6" />
<line x1="423.90" y1="480.08" x2="432.50" y2="480.08" stroke="#000" stroke-width="1.6" />
<rect x="420.4" y="483.1" width="15.6" height="15.8" fill="#808080" stroke="#000" stroke-width="1.6"/>
<line x1="454.80" y1="488.74" x2="454.80" y2="486.86" stroke="#000" stroke-width="1.6" />
<line x1="450.50" y1="486.86" x2="459.10" y2="486.86" stroke="#000" stroke-width="1.6" />
<rect x="447.0" y="488.7" width="15.6" height="10.2" fill="#000" stroke="#000" stroke-width="1.6"/>
<line x1="525.00" y1="498.90" x2="525.00" y2="505.40" stroke="#000" stroke-width="1.6" />
<text x="525.00" y="517.00" font-size="11.6" text-anchor="middle" font-weight="bold" fill="#000" textLength="39" lengthAdjust="spacingAndGlyphs">6CKine</text>
<line x1="498.40" y1="393.88" x2="498.40" y2="390.87" stroke="#000" stroke-width="1.6" />
<line x1="494.10" y1="390.87" x2="502.70" y2="390.87" stroke="#000" stroke-width="1.6" />
<rect x="490.6" y="393.9" width="15.6" height="105.0" fill="#fff" stroke="#000" stroke-width="1.6"/>
<line x1="525.00" y1="389.37" x2="525.00" y2="379.96" stroke="#000" stroke-width="1.6" />
<line x1="520.70" y1="379.96" x2="529.30" y2="379.96" stroke="#000" stroke-width="1.6" />
<rect x="517.2" y="389.4" width="15.6" height="109.5" fill="#808080" stroke="#000" stroke-width="1.6"/>
<line x1="551.60" y1="370.92" x2="551.60" y2="355.49" stroke="#000" stroke-width="1.6" />
<line x1="547.30" y1="355.49" x2="555.90" y2="355.49" stroke="#000" stroke-width="1.6" />
<rect x="543.8" y="370.9" width="15.6" height="128.0" fill="#000" stroke="#000" stroke-width="1.6"/>
<line x1="622.40" y1="498.90" x2="622.40" y2="505.40" stroke="#000" stroke-width="1.6" />
<text x="622.40" y="517.00" font-size="11.6" text-anchor="middle" font-weight="bold" fill="#000" >MIP3<tspan font-weight="normal" font-family="Liberation Serif" font-size="12.5" fill="#444">β</tspan></text>
<line x1="595.80" y1="375.44" x2="595.80" y2="353.99" stroke="#000" stroke-width="1.6" />
<line x1="591.50" y1="353.99" x2="600.10" y2="353.99" stroke="#000" stroke-width="1.6" />
<rect x="588.0" y="375.4" width="15.6" height="123.5" fill="#fff" stroke="#000" stroke-width="1.6"/>
<line x1="622.40" y1="371.68" x2="622.40" y2="366.41" stroke="#000" stroke-width="1.6" />
<line x1="618.10" y1="366.41" x2="626.70" y2="366.41" stroke="#000" stroke-width="1.6" />
<rect x="614.6" y="371.7" width="15.6" height="127.2" fill="#808080" stroke="#000" stroke-width="1.6"/>
<line x1="649.00" y1="352.86" x2="649.00" y2="343.07" stroke="#000" stroke-width="1.6" />
<line x1="644.70" y1="343.07" x2="653.30" y2="343.07" stroke="#000" stroke-width="1.6" />
<rect x="641.2" y="352.9" width="15.6" height="146.0" fill="#000" stroke="#000" stroke-width="1.6"/>
<rect x="393.6" y="312.2" width="18.6" height="4.6" fill="#fff" stroke="#000" stroke-width="1.4"/>
<text x="424.4" y="318.2" font-size="12.3" textLength="73.5" lengthAdjust="spacingAndGlyphs" fill="#111">mDC batch 1</text>
<rect x="393.6" y="334.5" width="18.6" height="4.6" fill="#808080" stroke="#000" stroke-width="1.4"/>
<text x="424.4" y="340.5" font-size="12.3" textLength="73.5" lengthAdjust="spacingAndGlyphs" fill="#111">mDC batch 2</text>
<rect x="393.6" y="356.8" width="18.6" height="4.6" fill="#000" stroke="#000" stroke-width="1.4"/>
<text x="424.4" y="362.8" font-size="12.3" textLength="73.5" lengthAdjust="spacingAndGlyphs" fill="#111">mDC batch 3</text>
<line x1="48.70" y1="595.70" x2="48.70" y2="795.20" stroke="#000" stroke-width="2" />
<line x1="47.70" y1="794.20" x2="344.00" y2="794.20" stroke="#000" stroke-width="2" />
<line x1="42.90" y1="794.20" x2="48.70" y2="794.20" stroke="#000" stroke-width="1.6" />
<text x="41.00" y="798.40" font-size="11.6" text-anchor="end" font-weight="bold" fill="#000" >0</text>
<line x1="42.90" y1="754.66" x2="48.70" y2="754.66" stroke="#000" stroke-width="1.6" />
<text x="41.00" y="758.86" font-size="11.6" text-anchor="end" font-weight="bold" fill="#000" >20</text>
<line x1="42.90" y1="715.12" x2="48.70" y2="715.12" stroke="#000" stroke-width="1.6" />
<text x="41.00" y="719.32" font-size="11.6" text-anchor="end" font-weight="bold" fill="#000" >40</text>
<line x1="42.90" y1="675.58" x2="48.70" y2="675.58" stroke="#000" stroke-width="1.6" />
<text x="41.00" y="679.78" font-size="11.6" text-anchor="end" font-weight="bold" fill="#000" >60</text>
<line x1="42.90" y1="636.04" x2="48.70" y2="636.04" stroke="#000" stroke-width="1.6" />
<text x="41.00" y="640.24" font-size="11.6" text-anchor="end" font-weight="bold" fill="#000" >80</text>
<line x1="42.90" y1="596.50" x2="48.70" y2="596.50" stroke="#000" stroke-width="1.6" />
<text x="41.00" y="600.70" font-size="11.6" text-anchor="end" font-weight="bold" fill="#000" >100</text>
<text transform="translate(12.6,696.3) rotate(-90)" font-size="13.5" font-weight="bold" text-anchor="middle">% expression</text>
<text x="196.00" y="838.20" font-size="13.2" text-anchor="middle" font-weight="bold" fill="#000" >Marker</text>
<line x1="91.00" y1="681.71" x2="91.00" y2="670.24" stroke="#000" stroke-width="1.8" />
<line x1="81.00" y1="670.24" x2="101.00" y2="670.24" stroke="#000" stroke-width="1.8" />
<rect x="70.2" y="681.7" width="41.6" height="112.5" fill="#000"/>
<line x1="91.00" y1="794.20" x2="91.00" y2="800.00" stroke="#000" stroke-width="1.6" />
<text x="91.00" y="813.00" font-size="12.2" text-anchor="middle" font-weight="bold" fill="#000" >CD1a</text>
<line x1="143.70" y1="614.29" x2="143.70" y2="613.11" stroke="#000" stroke-width="1.8" />
<line x1="133.70" y1="613.11" x2="153.70" y2="613.11" stroke="#000" stroke-width="1.8" />
<rect x="122.9" y="614.3" width="41.6" height="179.9" fill="#9b9b9b"/>
<line x1="143.70" y1="794.20" x2="143.70" y2="800.00" stroke="#000" stroke-width="1.6" />
<text x="143.70" y="813.00" font-size="12.2" text-anchor="middle" font-weight="bold" fill="#000" >CD40</text>
<line x1="196.40" y1="652.45" x2="196.40" y2="650.08" stroke="#000" stroke-width="1.8" />
<line x1="186.40" y1="650.08" x2="206.40" y2="650.08" stroke="#000" stroke-width="1.8" />
<rect x="175.6" y="652.4" width="41.6" height="141.8" fill="#7e7e7e"/>
<line x1="196.40" y1="794.20" x2="196.40" y2="800.00" stroke="#000" stroke-width="1.6" />
<text x="196.40" y="813.00" font-size="12.2" text-anchor="middle" font-weight="bold" fill="#000" >CD80</text>
<line x1="249.10" y1="682.50" x2="249.10" y2="673.80" stroke="#000" stroke-width="1.8" />
<line x1="239.10" y1="673.80" x2="259.10" y2="673.80" stroke="#000" stroke-width="1.8" />
<rect x="228.3" y="682.5" width="41.6" height="111.7" fill="#d4d4d4"/>
<line x1="249.10" y1="794.20" x2="249.10" y2="800.00" stroke="#000" stroke-width="1.6" />
<text x="249.10" y="813.00" font-size="12.2" text-anchor="middle" font-weight="bold" fill="#000" >CD83</text>
<line x1="301.80" y1="614.29" x2="301.80" y2="611.53" stroke="#000" stroke-width="1.8" />
<line x1="291.80" y1="611.53" x2="311.80" y2="611.53" stroke="#000" stroke-width="1.8" />
<rect x="281.0" y="614.3" width="41.6" height="179.9" fill="#616161"/>
<line x1="301.80" y1="794.20" x2="301.80" y2="800.00" stroke="#000" stroke-width="1.6" />
<text x="301.80" y="813.00" font-size="12.2" text-anchor="middle" font-weight="bold" fill="#000" >CD86</text>
</svg>
</body></html>
